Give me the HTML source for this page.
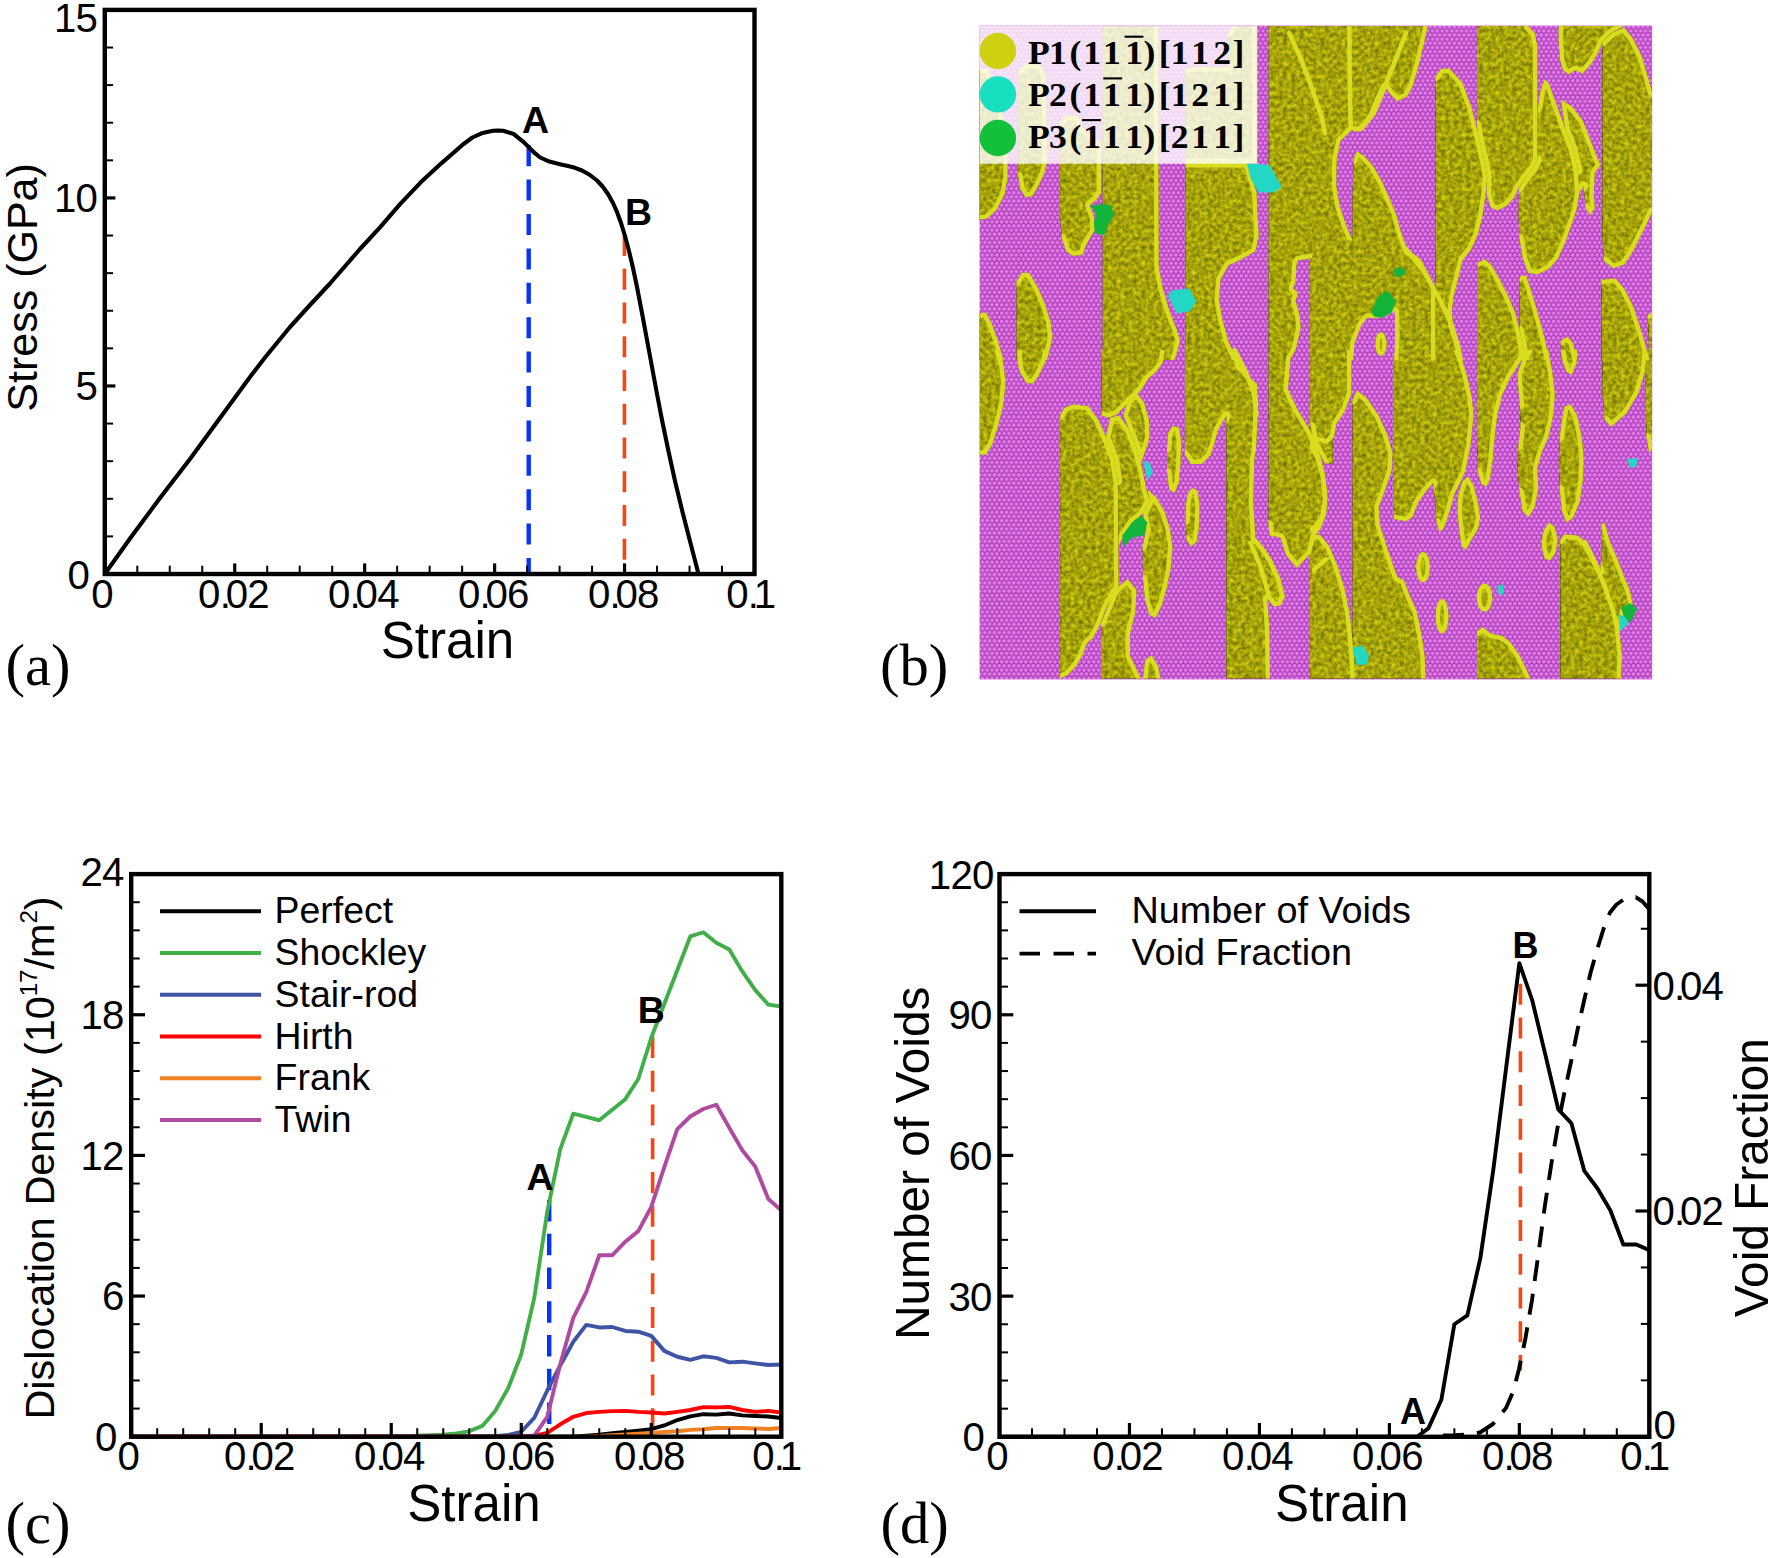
<!DOCTYPE html>
<html lang="en"><head><meta charset="utf-8"><title>Figure</title>
<style>html,body{margin:0;padding:0;background:#fff;}svg{display:block;}text{fill:#000;}</style>
</head><body>
<svg width="1774" height="1558" viewBox="0 0 1774 1558">
<rect width="1774" height="1558" fill="#fff"/>
<clipPath id="clipA"><rect x="104.8" y="9.9" width="649.7" height="566.1"/></clipPath>
<line x1="528.7" y1="145.2" x2="528.7" y2="572.5" stroke="#0433ff" stroke-width="4.4" stroke-dasharray="21 13.4"/>
<line x1="624.4" y1="235" x2="624.4" y2="572.5" stroke="#fb4411" stroke-width="3.6" stroke-dasharray="21 12.75"/>
<polyline points="104.8,574 130,538.5 160,498 190,459 220,418 250,377 265,357.5 290,327 310,305 330,283.5 360,249 380,227.3 400.5,203.7 421,182.1 441.6,163.1 462.1,145.2 472.4,137.5 482.7,132.9 492.9,130.8 498,130.5 503.2,130.8 513.5,133.9 523.7,142.1 528.9,147.2 534,152.4 540.2,157.5 549.4,161.6 560,164.2 568,166 575,167.8 582,170.5 590,175 597,180.5 603,187 608,194 613,203 617,212 621,223 625,236 629,251 633,268 637,287 642,313 647,340 652,367 657,394 662,420 668,449 675,481 682.5,512 691,545 698.9,575.5" fill="none" stroke="#000" stroke-width="4.1" stroke-linejoin="round" clip-path="url(#clipA)"/>
<rect x="104.8" y="9.9" width="649.7" height="564.1" fill="none" stroke="#000" stroke-width="4.4"/>
<line x1="137.28" y1="574" x2="137.28" y2="565.7" stroke="#000" stroke-width="2" />
<line x1="169.77" y1="574" x2="169.77" y2="565.7" stroke="#000" stroke-width="2" />
<line x1="202.25" y1="574" x2="202.25" y2="565.7" stroke="#000" stroke-width="2" />
<line x1="234.74" y1="574" x2="234.74" y2="563.4" stroke="#000" stroke-width="3.2" />
<line x1="267.23" y1="574" x2="267.23" y2="565.7" stroke="#000" stroke-width="2" />
<line x1="299.71" y1="574" x2="299.71" y2="565.7" stroke="#000" stroke-width="2" />
<line x1="332.19" y1="574" x2="332.19" y2="565.7" stroke="#000" stroke-width="2" />
<line x1="364.68" y1="574" x2="364.68" y2="563.4" stroke="#000" stroke-width="3.2" />
<line x1="397.16" y1="574" x2="397.16" y2="565.7" stroke="#000" stroke-width="2" />
<line x1="429.65" y1="574" x2="429.65" y2="565.7" stroke="#000" stroke-width="2" />
<line x1="462.13" y1="574" x2="462.13" y2="565.7" stroke="#000" stroke-width="2" />
<line x1="494.62" y1="574" x2="494.62" y2="563.4" stroke="#000" stroke-width="3.2" />
<line x1="527.11" y1="574" x2="527.11" y2="565.7" stroke="#000" stroke-width="2" />
<line x1="559.59" y1="574" x2="559.59" y2="565.7" stroke="#000" stroke-width="2" />
<line x1="592.07" y1="574" x2="592.07" y2="565.7" stroke="#000" stroke-width="2" />
<line x1="624.56" y1="574" x2="624.56" y2="563.4" stroke="#000" stroke-width="3.2" />
<line x1="657.04" y1="574" x2="657.04" y2="565.7" stroke="#000" stroke-width="2" />
<line x1="689.53" y1="574" x2="689.53" y2="565.7" stroke="#000" stroke-width="2" />
<line x1="722.01" y1="574" x2="722.01" y2="565.7" stroke="#000" stroke-width="2" />
<text x="102.1" y="607.5" font-size="40.2" text-anchor="middle" font-weight="normal" font-family='"Liberation Sans", sans-serif' letter-spacing="-0.8">0</text>
<text x="233.44" y="607.5" font-size="40.2" text-anchor="middle" font-weight="normal" font-family='"Liberation Sans", sans-serif' letter-spacing="-0.8">0.<tspan dx="-4.4">02</tspan></text>
<text x="363.38" y="607.5" font-size="40.2" text-anchor="middle" font-weight="normal" font-family='"Liberation Sans", sans-serif' letter-spacing="-0.8">0.<tspan dx="-4.4">04</tspan></text>
<text x="493.32" y="607.5" font-size="40.2" text-anchor="middle" font-weight="normal" font-family='"Liberation Sans", sans-serif' letter-spacing="-0.8">0.<tspan dx="-4.4">06</tspan></text>
<text x="623.26" y="607.5" font-size="40.2" text-anchor="middle" font-weight="normal" font-family='"Liberation Sans", sans-serif' letter-spacing="-0.8">0.<tspan dx="-4.4">08</tspan></text>
<text x="750.7" y="607.5" font-size="40.2" text-anchor="middle" font-weight="normal" font-family='"Liberation Sans", sans-serif' letter-spacing="-0.8">0.<tspan dx="-4.4">1</tspan></text>
<line x1="104.8" y1="536.39" x2="113.1" y2="536.39" stroke="#000" stroke-width="2" />
<line x1="104.8" y1="498.79" x2="113.1" y2="498.79" stroke="#000" stroke-width="2" />
<line x1="104.8" y1="461.18" x2="113.1" y2="461.18" stroke="#000" stroke-width="2" />
<line x1="104.8" y1="423.57" x2="113.1" y2="423.57" stroke="#000" stroke-width="2" />
<line x1="104.8" y1="385.97" x2="115.4" y2="385.97" stroke="#000" stroke-width="3.2" />
<line x1="104.8" y1="348.36" x2="113.1" y2="348.36" stroke="#000" stroke-width="2" />
<line x1="104.8" y1="310.75" x2="113.1" y2="310.75" stroke="#000" stroke-width="2" />
<line x1="104.8" y1="273.15" x2="113.1" y2="273.15" stroke="#000" stroke-width="2" />
<line x1="104.8" y1="235.54" x2="113.1" y2="235.54" stroke="#000" stroke-width="2" />
<line x1="104.8" y1="197.93" x2="115.4" y2="197.93" stroke="#000" stroke-width="3.2" />
<line x1="104.8" y1="160.33" x2="113.1" y2="160.33" stroke="#000" stroke-width="2" />
<line x1="104.8" y1="122.72" x2="113.1" y2="122.72" stroke="#000" stroke-width="2" />
<line x1="104.8" y1="85.11" x2="113.1" y2="85.11" stroke="#000" stroke-width="2" />
<line x1="104.8" y1="47.51" x2="113.1" y2="47.51" stroke="#000" stroke-width="2" />
<text x="89" y="589.2" font-size="40.2" text-anchor="end" font-weight="normal" font-family='"Liberation Sans", sans-serif' letter-spacing="-0.8">0</text>
<text x="97" y="400.37" font-size="40.2" text-anchor="end" font-weight="normal" font-family='"Liberation Sans", sans-serif' letter-spacing="-0.8">5</text>
<text x="97" y="212.33" font-size="40.2" text-anchor="end" font-weight="normal" font-family='"Liberation Sans", sans-serif' letter-spacing="-0.8">10</text>
<text x="97" y="31.6" font-size="40.2" text-anchor="end" font-weight="normal" font-family='"Liberation Sans", sans-serif' letter-spacing="-0.8">15</text>
<text transform="translate(447.5 658.3) scale(0.972 1)" font-size="52.6" text-anchor="middle" font-family='"Liberation Sans", sans-serif'>Strain</text>
<text transform="translate(37.2 287.4) rotate(-90) scale(1 1)" font-size="43" text-anchor="middle" font-family='"Liberation Sans", sans-serif' >Stress (GPa)</text>
<text x="522" y="133.2" font-size="37.5" text-anchor="start" font-weight="bold" font-family='"Liberation Sans", sans-serif' >A</text>
<text x="625" y="225" font-size="37.5" text-anchor="start" font-weight="bold" font-family='"Liberation Sans", sans-serif' >B</text>
<text transform="translate(5.6 685) scale(1 1)" font-size="58.6" font-family='"Liberation Serif", serif'>(a)</text>
<defs>
<clipPath id="clipB"><rect x="979.5" y="25.5" width="672.8" height="654"/></clipPath>
<radialGradient id="gp" cx="0.45" cy="0.42" r="0.58"><stop offset="0" stop-color="#f686fb"/><stop offset="0.45" stop-color="#e273ea"/><stop offset="1" stop-color="#b24cbc"/></radialGradient>
<pattern id="patP" width="4.84" height="8.3" patternUnits="userSpaceOnUse"><rect width="4.84" height="8.3" fill="#973aa3"/><circle cx="2.42" cy="2.07" r="2.3" fill="url(#gp)"/><circle cx="0" cy="6.22" r="2.3" fill="url(#gp)"/><circle cx="4.84" cy="6.22" r="2.3" fill="url(#gp)"/></pattern>
<filter id="fY" filterUnits="userSpaceOnUse" x="978.5" y="24.5" width="674.8" height="656" color-interpolation-filters="sRGB"><feTurbulence type="fractalNoise" baseFrequency="0.24" numOctaves="2" seed="5" result="n"/><feColorMatrix in="n" type="matrix" values="1 0 0 0 0  1 0 0 0 0  1 0 0 0 0  0 0 0 0 1" result="g"/><feComposite in="SourceGraphic" in2="g" operator="arithmetic" k1="0.9" k2="0.55" k3="0" k4="0"/></filter>
</defs>
<g clip-path="url(#clipB)">
<rect x="979.5" y="25.5" width="672.8" height="654" fill="#cf64d8"/>
<rect x="979.5" y="25.5" width="672.8" height="654" fill="url(#patP)"/>
<g filter="url(#fY)" fill="#a5a30a">
<polygon points="979.4,69.1 988.1,69.1 1001.2,107.3 1007.7,142.2 1007.7,177.1 1004.5,194.6 996.8,209.8 987,218.6 979.4,219.7"/>
<polygon points="1018.6,70.2 1025.2,64.1 1040.5,64.7 1045.9,76.7 1047,162.9 1043.7,174.9 1037.2,188 1032.2,196.3 1025.6,197.2 1020.4,189.1 1018.2,176"/>
<polygon points="1060.1,122.6 1066.6,114.9 1077.6,116 1084.1,129.1 1101.1,142.2 1101.1,192.4 1097.2,198.9 1089.6,205.5 1093.9,216.4 1095,229.5 1088.5,240.4 1085.2,246.9 1083,254.6 1073.2,256.1 1066.2,251.3 1061.8,238.2 1060.1,216.4"/>
<polygon points="1102.6,26.5 1158.3,26.5 1158.7,266.6 1162.7,288.4 1169.2,310.2 1176.8,329.8 1180.1,340.8 1174.7,360 1102.6,360"/>
<polygon points="1016.5,360 1016.5,281.8 1021.9,272.7 1029.5,273.1 1038.3,288.4 1044.8,303.7 1050.3,321.1 1052.5,336.4 1049.2,351.7 1047,360"/>
<polygon points="979.4,313.5 985.9,312.4 992.5,325.5 997.9,340.8 1003.4,360 979.4,360"/>
<polygon points="1185.6,69.1 1193.2,66.9 1228.1,66.9 1228.1,33.1 1232.5,26.5 1256.5,26.5 1256.5,162.9 1185.6,162.9"/>
<polygon points="1185.6,162.9 1247.7,162.9 1256.5,192.4 1257.6,216.4 1258.7,236 1255.4,251.3 1240.1,260 1228.1,265.5 1220.5,279.7 1218.9,299.3 1222.7,321.1 1228.1,340.8 1236.8,360 1185.6,360"/>
<polygon points="1268.6,26 1312,26 1312,258 1298.4,260.3 1296.6,263 1295.5,282 1293,288.5 1298,292 1295.5,301 1299.4,314 1300.7,327 1298,340 1295.5,350 1290.4,359 1289,378 1287.8,388.6 1291.7,397.6 1298,410.5 1305.8,423.3 1311,432.3 1316,444 1321,458 1325,475 1327.5,498 1326,515 1321,528 1315.4,535.5 1311,553 1296.8,568 1286,555 1280.5,537.6 1269.6,535.5 1268.5,524.6"/>
<polygon points="1310,26.1 1427.8,26.1 1423.9,44 1419.1,63.6 1413,85.5 1407.1,96.4 1397.3,101.2 1390.3,94.2 1385.3,87.2 1379.8,98.6 1373.7,113.8 1367.2,124.7 1358.4,131.7 1351.5,130.2 1340.5,141.1 1336.6,159.6 1336.2,185.8 1339.5,205.5 1346,225.1 1352.5,240.4 1310,240.4"/>
<polygon points="1353.6,159.6 1356.9,150.9 1364.5,156.4 1373.3,166.2 1382,181.5 1389.6,198.9 1396.2,214.2 1399.5,227.3 1403.8,240.4 1408.2,251.3 1414.7,254.6 1421.3,260 1427.8,273.1 1435.5,287.3 1435.5,360 1310,360 1310,238.2 1352.5,238.2 1352.5,194.6"/>
<polygon points="1435.5,360 1435.5,76.7 1440.9,69.1 1449.6,68.4 1462.7,83.3 1471.5,107.3 1478,133.5 1484.6,161.8 1487.2,177.1 1485.6,194.6 1482.4,216.4 1478,233.8 1471.5,249.1 1462.7,260 1458.4,277.5 1454,294.9 1451.8,310.2 1452.9,325.5 1458.4,342.9 1462.7,360"/>
<polygon points="1476.9,26.1 1528.2,26.1 1534.7,33.1 1537.4,46.2 1537.4,159.6 1532.6,169.5 1524.9,178.2 1518.4,188 1514,197.8 1506.4,205.9 1497.7,210.3 1491.1,207.7 1486.7,194.6 1487.2,177.1 1484.6,161.8 1478,133.5 1476.9,124.7"/>
<polygon points="1544.6,79.3 1548.9,83.3 1556.6,105.1 1565.3,129.1 1572.9,148.7 1577.9,170.6 1579.5,192.4 1576.6,209.8 1570.7,227.3 1564.2,244.7 1557.7,258.9 1548.9,268.7 1538,274.2 1528.2,273.1 1522.7,257.8 1519.5,238.2 1518.4,216.4 1519,188 1524.9,178.2 1532.6,169.5 1537.4,159.6 1538,107.3 1540.2,92"/>
<polygon points="1560.9,99.6 1571.8,106.2 1582.7,120.4 1590.4,140 1598,159.6 1600.6,165.1 1594.7,172.7 1593.7,194.6 1594.7,207.7 1590.4,215.3 1585.4,207.7 1583.8,185.8 1579.5,192.4 1577.9,170.6 1572.9,148.7 1565.3,129.1"/>
<polygon points="1558.7,26.1 1624.2,26.1 1611.1,33.1 1602.4,41.8 1598,52.7 1591.5,63.6 1582.7,73.5 1575.1,70.2 1568.6,74.5 1563.1,70.2 1559.8,59.3 1558.7,41.8"/>
<polygon points="1602.4,41.8 1612.2,32.7 1624.2,27.6 1632.9,38.5 1641.7,56 1647.8,76.7 1652.1,92 1652.1,212 1647.1,222.9 1640.6,236 1632.9,251.3 1624.2,264.4 1613.3,268.3 1604.1,261.1 1602.4,238.2"/>
<polygon points="1601.3,279.7 1615.5,278.6 1624.2,288.4 1632.9,305.8 1639.5,325.5 1644.9,342.9 1649.3,360 1601.3,360"/>
<polygon points="1647.8,314.6 1652.1,312.4 1652.1,360 1649.3,360"/>
<polygon points="1478,262.2 1484.6,259.6 1491.1,264.4 1499.8,279.7 1508.6,297.1 1515.1,312.4 1519.5,329.8 1522.7,347.3 1524.9,360 1478,360"/>
<polygon points="1519.9,276.4 1526,275.3 1530.4,288.4 1536.9,310.2 1541.3,325.5 1545.7,342.9 1548.9,360 1524.9,360 1522.7,347.3 1519.5,329.8 1519.5,303.7"/>
<polygon points="1560.9,340.8 1567.5,336.4 1572.9,342.9 1577.3,360 1560.9,360"/>
<polygon points="979.8,350 999,350 1003.4,363.1 1005.5,382.7 1003.4,404.5 997.9,426.4 992.5,443.8 985.9,454.7 979.8,454.7"/>
<polygon points="1017.5,350 1048.1,350 1044.8,363.1 1038.3,376.2 1032.8,383.8 1026.3,382.7 1019.7,371.8 1017.5,360.9"/>
<polygon points="1060.1,678.4 1060.1,415.5 1064.5,407.8 1073.2,404.5 1088.5,406.3 1098.3,419.8 1107,439.5 1114.2,459.1 1117.9,480.9 1118.6,586.7 1113.6,594.4 1105.9,608.6 1099.8,624.9 1092.8,638 1086.7,643.5 1082.4,655.5 1075.8,666.4 1067.7,675.1"/>
<polygon points="1105.9,437.3 1110.3,417.6 1119,415.5 1128.8,428.6 1136.5,448.2 1142.6,470 1146.3,489.6 1149.6,500.6 1143,513.6 1132.1,522.4 1123.4,535.5 1118.6,546.4 1117.9,480.9 1114.2,459.1"/>
<polygon points="1147.4,489.6 1156.1,497.3 1164.4,511.5 1169.9,528.9 1172.5,546.4 1170.7,568.2 1167,586.7 1162.2,604.2 1155.7,617.9 1149.6,615.1 1145.2,600.9 1143,579.1 1142.6,546.4 1146.3,528.9 1143,513.6 1149.6,500.6"/>
<polygon points="1101.1,350 1164.8,350 1162.7,363.1 1156.1,371.8 1148.5,378.4 1140.8,390.4 1132.1,399.1 1125.6,405.6 1116.8,414.4 1108.1,417.6 1101.6,415.5"/>
<polygon points="1127.7,401.3 1136.5,392.5 1144.1,402.4 1148.9,419.8 1149.6,437.3 1146.3,448.2 1140.8,463.5 1136.5,448.2 1128.8,428.6 1123.4,415.5"/>
<polygon points="1168.1,432.9 1172.5,425.9 1179,427.5 1181.2,441.6 1180.5,463.5 1179,480.9 1174.7,492.9 1169.2,489.6 1167,472.2 1167,448.2"/>
<polygon points="1187.7,494 1192.1,487.9 1197.6,490.7 1199.7,507.1 1198.7,528.9 1196.5,542 1191,546.4 1186.7,539.8 1185.6,520.2 1186.2,502.7"/>
<polygon points="1184.9,350 1234.7,350 1236.4,353.1 1239.9,365.5 1247.1,372.9 1252.1,379.9 1256.9,383.6 1258.2,403.9 1256.9,430.1 1256,449.9 1254.3,459.1 1253.2,502.7 1255.4,537.7 1263,546.4 1271.7,559.5 1280.5,579.1 1284.8,596.6 1280.5,605.3 1273.9,606.4 1267.4,598.7 1269.6,633.7 1270,678.4 1226.4,678.4 1226.4,415.5 1217.6,430.7 1215,441.6 1210.7,454.7 1201.9,463.9 1191,463.9 1184.9,454.7"/>
<polygon points="1311,350 1332.8,350 1332.8,463.5 1325,463.5 1314.3,443.8 1311,426.4"/>
<polygon points="1312.1,568.2 1325,557.3 1332.8,557.3 1332.8,678.4 1312.1,678.4"/>
<polygon points="1247.7,542 1255.4,537.7 1263,546.4 1271.7,559.5 1280.5,579.1 1284.8,596.6 1280.5,605.3 1273.9,606.4 1267.4,598.7 1258.7,568.2"/>
<polygon points="1143,678.4 1145.2,659.8 1151.7,655.5 1158.3,666.4 1160.5,678.4"/>
<polygon points="1101.1,678.4 1101.1,622.7 1114.6,590 1127.7,579.1 1136.5,590 1135.4,611.8 1129.9,633.7 1129.9,655.5 1140.8,678.4"/>
<polygon points="1310,350 1351.5,350 1351.5,393.6 1344.9,411.1 1336.2,424.2 1334,437.3 1327.5,443.8 1318.7,441.6 1310,441.6"/>
<polygon points="1310,441.6 1318.7,454.7 1325.3,476.6 1327.5,498.4 1324.2,518 1316.5,528.9 1310,533.3"/>
<polygon points="1310,535.5 1319.8,534.4 1329.6,546.4 1338.4,568.2 1344.9,590 1349.3,611.8 1351.9,633.7 1353.6,655.5 1354.7,678.4 1310,678.4"/>
<polygon points="1352.5,678.4 1352.5,400.2 1356.9,390.4 1366.7,398 1378.7,415.5 1387.5,435.1 1392.5,452.6 1391.8,470 1385.3,489.6 1378.7,507.1 1379.8,524.6 1385.3,542 1391.8,561.7 1397.3,576.9 1403.8,580.2 1409.3,594.4 1416.9,611.8 1421.3,633.7 1424.6,655.5 1425.6,678.4"/>
<polygon points="1394,350 1394,519.1 1406,521.3 1412.6,516.9 1418,502.7 1425.6,491.8 1433.3,483.1 1435,502.7 1436.6,522.4 1439.2,531.5 1443.5,528.9 1449.6,511.5 1454.4,494 1461,480.9 1465.4,471.1 1470.4,446 1473.6,415.5 1471.9,398 1467.1,376.2 1461,356.5 1458.4,350"/>
<polygon points="1462.7,480.9 1468.2,476.6 1473.6,485.3 1478,502.7 1480.2,518 1478,528.9 1471.5,539.8 1466,549.7 1461.6,546.4 1459.5,531.1 1457.3,511.5 1458.4,494"/>
<polygon points="1476.9,350 1528.2,350 1519.5,363.1 1509.7,378.4 1502,395.8 1497.2,415.5 1494.6,437.3 1492.8,459.1 1490,478.7 1486.7,486.4 1481.3,484.2 1478,472.2 1476.9,437.3"/>
<polygon points="1517.3,374 1522.7,358.7 1528.2,350 1548.3,350 1552.2,371.8 1554.8,393.6 1553.3,415.5 1548.3,437.3 1541.7,452.6 1537.4,467.8 1538.2,489.6 1534.7,507.1 1528.6,516.9 1522.7,511.5 1519.5,491.8 1517.3,467.8 1518.4,446 1520.6,426.4 1519.9,404.5 1518.4,389.3"/>
<polygon points="1564.2,406.7 1570.7,404.5 1577.3,415.5 1581.7,437.3 1583.8,459.1 1582.7,480.9 1579.5,502.7 1572.9,518 1566.4,522.4 1562,511.5 1559.8,489.6 1558.7,463.5 1559.8,437.3 1562,419.8"/>
<polygon points="1560.9,350 1577.3,350 1576.6,363.1 1571.8,375.1 1566.4,371.8 1562.7,360.9"/>
<polygon points="1602.4,350 1647.1,350 1644.9,371.8 1638.4,393.6 1626.4,413.3 1611.1,426.8 1604.6,419.8 1602.4,393.6"/>
<polygon points="1646,350 1652.1,350 1652.1,448.2 1649.3,453.6 1646.5,437.3 1645.6,393.6"/>
<polygon points="1544.6,528.9 1548.9,522.4 1554.4,526.7 1557.7,539.8 1555.5,552.9 1550,560.6 1544.6,558.4 1541.7,546.4 1542.4,535.5"/>
<polygon points="1560.3,678.4 1560.3,539.8 1564.2,534.4 1578.4,535.5 1586,543.1 1593.7,557.3 1600.2,570.4 1602.4,546.4 1601.3,524.6 1604.6,522.4 1610,542 1617.7,559.5 1624.2,576.9 1629.7,590 1632.9,604.2 1624.2,611.8 1619.4,631.5 1622,655.5 1620.9,678.4"/>
<polygon points="1476.9,678.4 1476.9,631.5 1482.4,627.1 1491.1,633.7 1502,635.8 1510.7,642.4 1519.5,655.5 1526,668.6 1530.4,678.4"/>
<polygon points="1430,567.1 1429.5,573 1428,577.9 1425.7,581.2 1423,582.4 1420.4,581.2 1418.1,577.9 1416.6,573 1416,567.1 1416.6,561.3 1418.1,556.3 1420.4,553 1423,551.8 1425.7,553 1428,556.3 1429.5,561.3"/>
<polygon points="1448.6,616.2 1448.1,622.9 1446.6,628.5 1444.5,632.3 1442,633.7 1439.5,632.3 1437.4,628.5 1436,622.9 1435.5,616.2 1436,609.5 1437.4,603.9 1439.5,600.1 1442,598.7 1444.5,600.1 1446.6,603.9 1448.1,609.5"/>
<polygon points="1492.4,597.7 1491.8,603.1 1490.1,607.7 1487.6,610.8 1484.6,611.8 1481.6,610.8 1479,607.7 1477.3,603.1 1476.7,597.7 1477.3,592.2 1479,587.6 1481.6,584.6 1484.6,583.5 1487.6,584.6 1490.1,587.6 1491.8,592.2"/>
</g>
<g id="rims1">
<clipPath id="r1"><polygon points="979.4,69.1 988.1,69.1 1001.2,107.3 1007.7,142.2 1007.7,177.1 1004.5,194.6 996.8,209.8 987,218.6 979.4,219.7"/></clipPath>
<g clip-path="url(#r1)" fill="none" stroke="#d9dd20" stroke-width="9" stroke-linejoin="round" stroke-linecap="round">
<polyline points="979.4,69.1 988.1,69.1 1001.2,107.3 1007.7,142.2 1007.7,177.1 1004.5,194.6 996.8,209.8 987,218.6 979.4,219.7"/>
</g>
<clipPath id="r2"><polygon points="1018.6,70.2 1025.2,64.1 1040.5,64.7 1045.9,76.7 1047,162.9 1043.7,174.9 1037.2,188 1032.2,196.3 1025.6,197.2 1020.4,189.1 1018.2,176"/></clipPath>
<g clip-path="url(#r2)" fill="none" stroke="#d9dd20" stroke-width="9" stroke-linejoin="round" stroke-linecap="round">
<polyline points="1018.6,70.2 1025.2,64.1 1040.5,64.7 1045.9,76.7 1047,162.9 1043.7,174.9 1037.2,188 1032.2,196.3 1025.6,197.2 1020.4,189.1 1018.2,176"/>
</g>
<clipPath id="r3"><polygon points="1060.1,122.6 1066.6,114.9 1077.6,116 1084.1,129.1 1101.1,142.2 1101.1,192.4 1097.2,198.9 1089.6,205.5 1093.9,216.4 1095,229.5 1088.5,240.4 1085.2,246.9 1083,254.6 1073.2,256.1 1066.2,251.3 1061.8,238.2 1060.1,216.4"/></clipPath>
<g clip-path="url(#r3)" fill="none" stroke="#d9dd20" stroke-width="9" stroke-linejoin="round" stroke-linecap="round">
<polyline points="1060.1,122.6 1066.6,114.9 1077.6,116 1084.1,129.1 1101.1,142.2 1101.1,192.4 1097.2,198.9 1089.6,205.5 1093.9,216.4 1095,229.5 1088.5,240.4 1085.2,246.9 1083,254.6 1073.2,256.1 1066.2,251.3 1061.8,238.2"/>
</g>
<clipPath id="r4"><polygon points="1102.6,26.5 1158.3,26.5 1158.7,266.6 1162.7,288.4 1169.2,310.2 1176.8,329.8 1180.1,340.8 1174.7,360 1102.6,360"/></clipPath>
<g clip-path="url(#r4)" fill="none" stroke="#d9dd20" stroke-width="9" stroke-linejoin="round" stroke-linecap="round">
<polyline points="1158.3,26.5 1158.7,266.6 1162.7,288.4 1169.2,310.2 1176.8,329.8 1180.1,340.8 1174.7,360"/>
</g>
<clipPath id="r5"><polygon points="1016.5,360 1016.5,281.8 1021.9,272.7 1029.5,273.1 1038.3,288.4 1044.8,303.7 1050.3,321.1 1052.5,336.4 1049.2,351.7 1047,360"/></clipPath>
<g clip-path="url(#r5)" fill="none" stroke="#d9dd20" stroke-width="9" stroke-linejoin="round" stroke-linecap="round">
<polyline points="1016.5,281.8 1021.9,272.7 1029.5,273.1 1038.3,288.4 1044.8,303.7 1050.3,321.1 1052.5,336.4 1049.2,351.7 1047,360"/>
</g>
<clipPath id="r6"><polygon points="979.4,313.5 985.9,312.4 992.5,325.5 997.9,340.8 1003.4,360 979.4,360"/></clipPath>
<g clip-path="url(#r6)" fill="none" stroke="#d9dd20" stroke-width="9" stroke-linejoin="round" stroke-linecap="round">
<polyline points="979.4,313.5 985.9,312.4 992.5,325.5 997.9,340.8 1003.4,360"/>
</g>
<clipPath id="r7"><polygon points="1185.6,69.1 1193.2,66.9 1228.1,66.9 1228.1,33.1 1232.5,26.5 1256.5,26.5 1256.5,162.9 1185.6,162.9"/></clipPath>
<g clip-path="url(#r7)" fill="none" stroke="#d9dd20" stroke-width="9" stroke-linejoin="round" stroke-linecap="round">
<polyline points="1228.1,33.1 1232.5,26.5"/>
<polyline points="1256.5,26.5 1256.5,162.9 1185.6,162.9"/>
<polyline points="1185.6,69.1 1193.2,66.9 1228.1,66.9"/>
</g>
<clipPath id="r8"><polygon points="1185.6,162.9 1247.7,162.9 1256.5,192.4 1257.6,216.4 1258.7,236 1255.4,251.3 1240.1,260 1228.1,265.5 1220.5,279.7 1218.9,299.3 1222.7,321.1 1228.1,340.8 1236.8,360 1185.6,360"/></clipPath>
<g clip-path="url(#r8)" fill="none" stroke="#d9dd20" stroke-width="9" stroke-linejoin="round" stroke-linecap="round">
<polyline points="1185.6,162.9 1247.7,162.9 1256.5,192.4 1257.6,216.4 1258.7,236 1255.4,251.3 1240.1,260 1228.1,265.5 1220.5,279.7 1218.9,299.3 1222.7,321.1 1228.1,340.8 1236.8,360"/>
</g>
<clipPath id="r9"><polygon points="1268.6,26 1312,26 1312,258 1298.4,260.3 1296.6,263 1295.5,282 1293,288.5 1298,292 1295.5,301 1299.4,314 1300.7,327 1298,340 1295.5,350 1290.4,359 1289,378 1287.8,388.6 1291.7,397.6 1298,410.5 1305.8,423.3 1311,432.3 1316,444 1321,458 1325,475 1327.5,498 1326,515 1321,528 1315.4,535.5 1311,553 1296.8,568 1286,555 1280.5,537.6 1269.6,535.5 1268.5,524.6"/></clipPath>
<g clip-path="url(#r9)" fill="none" stroke="#d9dd20" stroke-width="9" stroke-linejoin="round" stroke-linecap="round">
<polyline points="1312,258 1298.4,260.3 1296.6,263 1295.5,282 1293,288.5 1298,292 1295.5,301 1299.4,314 1300.7,327 1298,340 1295.5,350 1290.4,359 1289,378 1287.8,388.6 1291.7,397.6 1298,410.5 1305.8,423.3 1311,432.3 1316,444 1321,458 1325,475 1327.5,498 1326,515 1321,528 1315.4,535.5 1311,553 1296.8,568 1286,555 1280.5,537.6 1269.6,535.5 1268.5,524.6"/>
</g>
<clipPath id="r10"><polygon points="1310,26.1 1427.8,26.1 1423.9,44 1419.1,63.6 1413,85.5 1407.1,96.4 1397.3,101.2 1390.3,94.2 1385.3,87.2 1379.8,98.6 1373.7,113.8 1367.2,124.7 1358.4,131.7 1351.5,130.2 1340.5,141.1 1336.6,159.6 1336.2,185.8 1339.5,205.5 1346,225.1 1352.5,240.4 1310,240.4"/></clipPath>
<g clip-path="url(#r10)" fill="none" stroke="#d9dd20" stroke-width="9" stroke-linejoin="round" stroke-linecap="round">
<polyline points="1427.8,26.1 1423.9,44 1419.1,63.6 1413,85.5 1407.1,96.4 1397.3,101.2 1390.3,94.2 1385.3,87.2 1379.8,98.6 1373.7,113.8 1367.2,124.7 1358.4,131.7 1351.5,130.2 1340.5,141.1 1336.6,159.6 1336.2,185.8 1339.5,205.5 1346,225.1 1352.5,240.4"/>
</g>
<clipPath id="r11"><polygon points="1353.6,159.6 1356.9,150.9 1364.5,156.4 1373.3,166.2 1382,181.5 1389.6,198.9 1396.2,214.2 1399.5,227.3 1403.8,240.4 1408.2,251.3 1414.7,254.6 1421.3,260 1427.8,273.1 1435.5,287.3 1435.5,360 1310,360 1310,238.2 1352.5,238.2 1352.5,194.6"/></clipPath>
<g clip-path="url(#r11)" fill="none" stroke="#d9dd20" stroke-width="9" stroke-linejoin="round" stroke-linecap="round">
<polyline points="1353.6,159.6 1356.9,150.9 1364.5,156.4 1373.3,166.2 1382,181.5 1389.6,198.9 1396.2,214.2 1399.5,227.3 1403.8,240.4 1408.2,251.3 1414.7,254.6 1421.3,260 1427.8,273.1 1435.5,287.3 1435.5,360"/>
</g>
<clipPath id="r12"><polygon points="1435.5,360 1435.5,76.7 1440.9,69.1 1449.6,68.4 1462.7,83.3 1471.5,107.3 1478,133.5 1484.6,161.8 1487.2,177.1 1485.6,194.6 1482.4,216.4 1478,233.8 1471.5,249.1 1462.7,260 1458.4,277.5 1454,294.9 1451.8,310.2 1452.9,325.5 1458.4,342.9 1462.7,360"/></clipPath>
<g clip-path="url(#r12)" fill="none" stroke="#d9dd20" stroke-width="9" stroke-linejoin="round" stroke-linecap="round">
<polyline points="1435.5,76.7 1440.9,69.1 1449.6,68.4 1462.7,83.3 1471.5,107.3 1478,133.5 1484.6,161.8 1487.2,177.1 1485.6,194.6 1482.4,216.4 1478,233.8 1471.5,249.1 1462.7,260 1458.4,277.5 1454,294.9 1451.8,310.2 1452.9,325.5 1458.4,342.9 1462.7,360"/>
</g>
<clipPath id="r13"><polygon points="1476.9,26.1 1528.2,26.1 1534.7,33.1 1537.4,46.2 1537.4,159.6 1532.6,169.5 1524.9,178.2 1518.4,188 1514,197.8 1506.4,205.9 1497.7,210.3 1491.1,207.7 1486.7,194.6 1487.2,177.1 1484.6,161.8 1478,133.5 1476.9,124.7"/></clipPath>
<g clip-path="url(#r13)" fill="none" stroke="#d9dd20" stroke-width="9" stroke-linejoin="round" stroke-linecap="round">
<polyline points="1528.2,26.1 1534.7,33.1 1537.4,46.2 1537.4,159.6 1532.6,169.5 1524.9,178.2 1518.4,188 1514,197.8 1506.4,205.9 1497.7,210.3 1491.1,207.7 1486.7,194.6 1487.2,177.1 1484.6,161.8 1478,133.5 1476.9,124.7"/>
</g>
<clipPath id="r14"><polygon points="1544.6,79.3 1548.9,83.3 1556.6,105.1 1565.3,129.1 1572.9,148.7 1577.9,170.6 1579.5,192.4 1576.6,209.8 1570.7,227.3 1564.2,244.7 1557.7,258.9 1548.9,268.7 1538,274.2 1528.2,273.1 1522.7,257.8 1519.5,238.2 1518.4,216.4 1519,188 1524.9,178.2 1532.6,169.5 1537.4,159.6 1538,107.3 1540.2,92"/></clipPath>
<g clip-path="url(#r14)" fill="none" stroke="#d9dd20" stroke-width="9" stroke-linejoin="round" stroke-linecap="round">
<polyline points="1519,188 1524.9,178.2 1532.6,169.5 1537.4,159.6"/>
<polyline points="1538,107.3 1540.2,92 1544.6,79.3 1548.9,83.3 1556.6,105.1 1565.3,129.1 1572.9,148.7 1577.9,170.6 1579.5,192.4 1576.6,209.8 1570.7,227.3 1564.2,244.7 1557.7,258.9 1548.9,268.7 1538,274.2 1528.2,273.1 1522.7,257.8 1519.5,238.2"/>
</g>
<clipPath id="r15"><polygon points="1560.9,99.6 1571.8,106.2 1582.7,120.4 1590.4,140 1598,159.6 1600.6,165.1 1594.7,172.7 1593.7,194.6 1594.7,207.7 1590.4,215.3 1585.4,207.7 1583.8,185.8 1579.5,192.4 1577.9,170.6 1572.9,148.7 1565.3,129.1"/></clipPath>
<g clip-path="url(#r15)" fill="none" stroke="#d9dd20" stroke-width="9" stroke-linejoin="round" stroke-linecap="round">
<polyline points="1583.8,185.8 1579.5,192.4"/>
<polyline points="1577.9,170.6 1572.9,148.7 1565.3,129.1 1560.9,99.6 1571.8,106.2 1582.7,120.4 1590.4,140 1598,159.6 1600.6,165.1 1594.7,172.7 1593.7,194.6 1594.7,207.7 1590.4,215.3 1585.4,207.7"/>
</g>
<clipPath id="r16"><polygon points="1558.7,26.1 1624.2,26.1 1611.1,33.1 1602.4,41.8 1598,52.7 1591.5,63.6 1582.7,73.5 1575.1,70.2 1568.6,74.5 1563.1,70.2 1559.8,59.3 1558.7,41.8"/></clipPath>
<g clip-path="url(#r16)" fill="none" stroke="#d9dd20" stroke-width="9" stroke-linejoin="round" stroke-linecap="round">
<polyline points="1624.2,26.1 1611.1,33.1 1602.4,41.8 1598,52.7 1591.5,63.6 1582.7,73.5 1575.1,70.2 1568.6,74.5 1563.1,70.2 1559.8,59.3 1558.7,41.8 1558.7,26.1"/>
</g>
<clipPath id="r17"><polygon points="1602.4,41.8 1612.2,32.7 1624.2,27.6 1632.9,38.5 1641.7,56 1647.8,76.7 1652.1,92 1652.1,212 1647.1,222.9 1640.6,236 1632.9,251.3 1624.2,264.4 1613.3,268.3 1604.1,261.1 1602.4,238.2"/></clipPath>
<g clip-path="url(#r17)" fill="none" stroke="#d9dd20" stroke-width="9" stroke-linejoin="round" stroke-linecap="round">
<polyline points="1652.1,212 1647.1,222.9 1640.6,236 1632.9,251.3 1624.2,264.4 1613.3,268.3 1604.1,261.1"/>
<polyline points="1602.4,41.8 1612.2,32.7 1624.2,27.6 1632.9,38.5 1641.7,56 1647.8,76.7 1652.1,92"/>
</g>
<clipPath id="r18"><polygon points="1601.3,279.7 1615.5,278.6 1624.2,288.4 1632.9,305.8 1639.5,325.5 1644.9,342.9 1649.3,360 1601.3,360"/></clipPath>
<g clip-path="url(#r18)" fill="none" stroke="#d9dd20" stroke-width="9" stroke-linejoin="round" stroke-linecap="round">
<polyline points="1601.3,279.7 1615.5,278.6 1624.2,288.4 1632.9,305.8 1639.5,325.5 1644.9,342.9 1649.3,360"/>
</g>
<clipPath id="r19"><polygon points="1647.8,314.6 1652.1,312.4 1652.1,360 1649.3,360"/></clipPath>
<g clip-path="url(#r19)" fill="none" stroke="#d9dd20" stroke-width="9" stroke-linejoin="round" stroke-linecap="round">
<polyline points="1647.8,314.6 1652.1,312.4"/>
</g>
<clipPath id="r20"><polygon points="1478,262.2 1484.6,259.6 1491.1,264.4 1499.8,279.7 1508.6,297.1 1515.1,312.4 1519.5,329.8 1522.7,347.3 1524.9,360 1478,360"/></clipPath>
<g clip-path="url(#r20)" fill="none" stroke="#d9dd20" stroke-width="9" stroke-linejoin="round" stroke-linecap="round">
<polyline points="1478,262.2 1484.6,259.6 1491.1,264.4 1499.8,279.7 1508.6,297.1 1515.1,312.4 1519.5,329.8 1522.7,347.3 1524.9,360"/>
</g>
<clipPath id="r21"><polygon points="1519.9,276.4 1526,275.3 1530.4,288.4 1536.9,310.2 1541.3,325.5 1545.7,342.9 1548.9,360 1524.9,360 1522.7,347.3 1519.5,329.8 1519.5,303.7"/></clipPath>
<g clip-path="url(#r21)" fill="none" stroke="#d9dd20" stroke-width="9" stroke-linejoin="round" stroke-linecap="round">
<polyline points="1524.9,360 1522.7,347.3 1519.5,329.8"/>
<polyline points="1519.9,276.4 1526,275.3 1530.4,288.4 1536.9,310.2 1541.3,325.5 1545.7,342.9 1548.9,360"/>
</g>
<clipPath id="r22"><polygon points="1560.9,340.8 1567.5,336.4 1572.9,342.9 1577.3,360 1560.9,360"/></clipPath>
<g clip-path="url(#r22)" fill="none" stroke="#d9dd20" stroke-width="9" stroke-linejoin="round" stroke-linecap="round">
<polyline points="1560.9,340.8 1567.5,336.4 1572.9,342.9 1577.3,360"/>
</g>
<clipPath id="r23"><polygon points="979.8,350 999,350 1003.4,363.1 1005.5,382.7 1003.4,404.5 997.9,426.4 992.5,443.8 985.9,454.7 979.8,454.7"/></clipPath>
<g clip-path="url(#r23)" fill="none" stroke="#d9dd20" stroke-width="9" stroke-linejoin="round" stroke-linecap="round">
<polyline points="999,350 1003.4,363.1 1005.5,382.7 1003.4,404.5 997.9,426.4 992.5,443.8 985.9,454.7 979.8,454.7"/>
</g>
<clipPath id="r24"><polygon points="1017.5,350 1048.1,350 1044.8,363.1 1038.3,376.2 1032.8,383.8 1026.3,382.7 1019.7,371.8 1017.5,360.9"/></clipPath>
<g clip-path="url(#r24)" fill="none" stroke="#d9dd20" stroke-width="9" stroke-linejoin="round" stroke-linecap="round">
<polyline points="1048.1,350 1044.8,363.1 1038.3,376.2 1032.8,383.8 1026.3,382.7 1019.7,371.8 1017.5,360.9 1017.5,350"/>
</g>
<clipPath id="r25"><polygon points="1060.1,678.4 1060.1,415.5 1064.5,407.8 1073.2,404.5 1088.5,406.3 1098.3,419.8 1107,439.5 1114.2,459.1 1117.9,480.9 1118.6,586.7 1113.6,594.4 1105.9,608.6 1099.8,624.9 1092.8,638 1086.7,643.5 1082.4,655.5 1075.8,666.4 1067.7,675.1"/></clipPath>
<g clip-path="url(#r25)" fill="none" stroke="#d9dd20" stroke-width="9" stroke-linejoin="round" stroke-linecap="round">
<polyline points="1060.1,415.5 1064.5,407.8 1073.2,404.5 1088.5,406.3 1098.3,419.8 1107,439.5 1114.2,459.1 1117.9,480.9 1118.6,586.7 1113.6,594.4 1105.9,608.6 1099.8,624.9 1092.8,638 1086.7,643.5 1082.4,655.5 1075.8,666.4 1067.7,675.1 1060.1,678.4"/>
</g>
<clipPath id="r26"><polygon points="1105.9,437.3 1110.3,417.6 1119,415.5 1128.8,428.6 1136.5,448.2 1142.6,470 1146.3,489.6 1149.6,500.6 1143,513.6 1132.1,522.4 1123.4,535.5 1118.6,546.4 1117.9,480.9 1114.2,459.1"/></clipPath>
<g clip-path="url(#r26)" fill="none" stroke="#d9dd20" stroke-width="9" stroke-linejoin="round" stroke-linecap="round">
<polyline points="1117.9,480.9 1114.2,459.1 1105.9,437.3 1110.3,417.6 1119,415.5 1128.8,428.6 1136.5,448.2 1142.6,470 1146.3,489.6 1149.6,500.6 1143,513.6 1132.1,522.4 1123.4,535.5 1118.6,546.4"/>
</g>
<clipPath id="r27"><polygon points="1147.4,489.6 1156.1,497.3 1164.4,511.5 1169.9,528.9 1172.5,546.4 1170.7,568.2 1167,586.7 1162.2,604.2 1155.7,617.9 1149.6,615.1 1145.2,600.9 1143,579.1 1142.6,546.4 1146.3,528.9 1143,513.6 1149.6,500.6"/></clipPath>
<g clip-path="url(#r27)" fill="none" stroke="#d9dd20" stroke-width="9" stroke-linejoin="round" stroke-linecap="round">
<polyline points="1142.6,546.4 1146.3,528.9 1143,513.6 1149.6,500.6 1147.4,489.6 1156.1,497.3 1164.4,511.5 1169.9,528.9 1172.5,546.4 1170.7,568.2 1167,586.7 1162.2,604.2 1155.7,617.9 1149.6,615.1 1145.2,600.9 1143,579.1"/>
</g>
<clipPath id="r28"><polygon points="1101.1,350 1164.8,350 1162.7,363.1 1156.1,371.8 1148.5,378.4 1140.8,390.4 1132.1,399.1 1125.6,405.6 1116.8,414.4 1108.1,417.6 1101.6,415.5"/></clipPath>
<g clip-path="url(#r28)" fill="none" stroke="#d9dd20" stroke-width="9" stroke-linejoin="round" stroke-linecap="round">
<polyline points="1164.8,350 1162.7,363.1 1156.1,371.8 1148.5,378.4 1140.8,390.4 1132.1,399.1 1125.6,405.6 1116.8,414.4 1108.1,417.6 1101.6,415.5"/>
</g>
<clipPath id="r29"><polygon points="1127.7,401.3 1136.5,392.5 1144.1,402.4 1148.9,419.8 1149.6,437.3 1146.3,448.2 1140.8,463.5 1136.5,448.2 1128.8,428.6 1123.4,415.5"/></clipPath>
<g clip-path="url(#r29)" fill="none" stroke="#d9dd20" stroke-width="9" stroke-linejoin="round" stroke-linecap="round">
<polyline points="1127.7,401.3 1136.5,392.5 1144.1,402.4 1148.9,419.8 1149.6,437.3 1146.3,448.2 1140.8,463.5 1136.5,448.2 1128.8,428.6 1123.4,415.5 1127.7,401.3"/>
</g>
<clipPath id="r30"><polygon points="1168.1,432.9 1172.5,425.9 1179,427.5 1181.2,441.6 1180.5,463.5 1179,480.9 1174.7,492.9 1169.2,489.6 1167,472.2 1167,448.2"/></clipPath>
<g clip-path="url(#r30)" fill="none" stroke="#d9dd20" stroke-width="9" stroke-linejoin="round" stroke-linecap="round">
<polyline points="1167,448.2 1168.1,432.9 1172.5,425.9 1179,427.5 1181.2,441.6 1180.5,463.5 1179,480.9 1174.7,492.9 1169.2,489.6 1167,472.2"/>
</g>
<clipPath id="r31"><polygon points="1187.7,494 1192.1,487.9 1197.6,490.7 1199.7,507.1 1198.7,528.9 1196.5,542 1191,546.4 1186.7,539.8 1185.6,520.2 1186.2,502.7"/></clipPath>
<g clip-path="url(#r31)" fill="none" stroke="#d9dd20" stroke-width="9" stroke-linejoin="round" stroke-linecap="round">
<polyline points="1185.6,520.2 1186.2,502.7 1187.7,494 1192.1,487.9 1197.6,490.7 1199.7,507.1 1198.7,528.9 1196.5,542 1191,546.4 1186.7,539.8"/>
</g>
<clipPath id="r32"><polygon points="1184.9,350 1234.7,350 1236.4,353.1 1239.9,365.5 1247.1,372.9 1252.1,379.9 1256.9,383.6 1258.2,403.9 1256.9,430.1 1256,449.9 1254.3,459.1 1253.2,502.7 1255.4,537.7 1263,546.4 1271.7,559.5 1280.5,579.1 1284.8,596.6 1280.5,605.3 1273.9,606.4 1267.4,598.7 1269.6,633.7 1270,678.4 1226.4,678.4 1226.4,415.5 1217.6,430.7 1215,441.6 1210.7,454.7 1201.9,463.9 1191,463.9 1184.9,454.7"/></clipPath>
<g clip-path="url(#r32)" fill="none" stroke="#d9dd20" stroke-width="9" stroke-linejoin="round" stroke-linecap="round">
<polyline points="1234.7,350 1236.4,353.1 1239.9,365.5 1247.1,372.9 1252.1,379.9 1256.9,383.6 1258.2,403.9 1256.9,430.1 1256,449.9 1254.3,459.1 1253.2,502.7 1255.4,537.7 1263,546.4 1271.7,559.5 1280.5,579.1 1284.8,596.6 1280.5,605.3 1273.9,606.4 1267.4,598.7 1269.6,633.7 1270,678.4"/>
<polyline points="1226.4,415.5 1217.6,430.7 1215,441.6 1210.7,454.7 1201.9,463.9 1191,463.9 1184.9,454.7"/>
</g>
<clipPath id="r33"><polygon points="1311,350 1332.8,350 1332.8,463.5 1325,463.5 1314.3,443.8 1311,426.4"/></clipPath>
<g clip-path="url(#r33)" fill="none" stroke="#d9dd20" stroke-width="9" stroke-linejoin="round" stroke-linecap="round">
<polyline points="1325,463.5 1314.3,443.8 1311,426.4"/>
</g>
<clipPath id="r34"><polygon points="1312.1,568.2 1325,557.3 1332.8,557.3 1332.8,678.4 1312.1,678.4"/></clipPath>
<g clip-path="url(#r34)" fill="none" stroke="#d9dd20" stroke-width="9" stroke-linejoin="round" stroke-linecap="round">
<polyline points="1312.1,568.2 1325,557.3"/>
</g>
<clipPath id="r35"><polygon points="1247.7,542 1255.4,537.7 1263,546.4 1271.7,559.5 1280.5,579.1 1284.8,596.6 1280.5,605.3 1273.9,606.4 1267.4,598.7 1258.7,568.2"/></clipPath>
<g clip-path="url(#r35)" fill="none" stroke="#d9dd20" stroke-width="9" stroke-linejoin="round" stroke-linecap="round">
<polyline points="1247.7,542 1255.4,537.7 1263,546.4 1271.7,559.5 1280.5,579.1 1284.8,596.6 1280.5,605.3 1273.9,606.4 1267.4,598.7 1258.7,568.2 1247.7,542"/>
</g>
<clipPath id="r36"><polygon points="1143,678.4 1145.2,659.8 1151.7,655.5 1158.3,666.4 1160.5,678.4"/></clipPath>
<g clip-path="url(#r36)" fill="none" stroke="#d9dd20" stroke-width="9" stroke-linejoin="round" stroke-linecap="round">
<polyline points="1143,678.4 1145.2,659.8 1151.7,655.5 1158.3,666.4 1160.5,678.4"/>
</g>
<clipPath id="r37"><polygon points="1101.1,678.4 1101.1,622.7 1114.6,590 1127.7,579.1 1136.5,590 1135.4,611.8 1129.9,633.7 1129.9,655.5 1140.8,678.4"/></clipPath>
<g clip-path="url(#r37)" fill="none" stroke="#d9dd20" stroke-width="9" stroke-linejoin="round" stroke-linecap="round">
<polyline points="1101.1,622.7 1114.6,590 1127.7,579.1 1136.5,590 1135.4,611.8 1129.9,633.7 1129.9,655.5 1140.8,678.4"/>
</g>
<clipPath id="r38"><polygon points="1310,350 1351.5,350 1351.5,393.6 1344.9,411.1 1336.2,424.2 1334,437.3 1327.5,443.8 1318.7,441.6 1310,441.6"/></clipPath>
<g clip-path="url(#r38)" fill="none" stroke="#d9dd20" stroke-width="9" stroke-linejoin="round" stroke-linecap="round">
<polyline points="1351.5,350 1351.5,393.6 1344.9,411.1 1336.2,424.2 1334,437.3 1327.5,443.8 1318.7,441.6 1310,441.6"/>
</g>
<clipPath id="r39"><polygon points="1310,441.6 1318.7,454.7 1325.3,476.6 1327.5,498.4 1324.2,518 1316.5,528.9 1310,533.3"/></clipPath>
<g clip-path="url(#r39)" fill="none" stroke="#d9dd20" stroke-width="9" stroke-linejoin="round" stroke-linecap="round">
<polyline points="1310,441.6 1318.7,454.7 1325.3,476.6 1327.5,498.4 1324.2,518 1316.5,528.9 1310,533.3"/>
</g>
<clipPath id="r40"><polygon points="1310,535.5 1319.8,534.4 1329.6,546.4 1338.4,568.2 1344.9,590 1349.3,611.8 1351.9,633.7 1353.6,655.5 1354.7,678.4 1310,678.4"/></clipPath>
<g clip-path="url(#r40)" fill="none" stroke="#d9dd20" stroke-width="9" stroke-linejoin="round" stroke-linecap="round">
<polyline points="1310,535.5 1319.8,534.4 1329.6,546.4 1338.4,568.2 1344.9,590 1349.3,611.8 1351.9,633.7 1353.6,655.5 1354.7,678.4"/>
</g>
<clipPath id="r41"><polygon points="1352.5,678.4 1352.5,400.2 1356.9,390.4 1366.7,398 1378.7,415.5 1387.5,435.1 1392.5,452.6 1391.8,470 1385.3,489.6 1378.7,507.1 1379.8,524.6 1385.3,542 1391.8,561.7 1397.3,576.9 1403.8,580.2 1409.3,594.4 1416.9,611.8 1421.3,633.7 1424.6,655.5 1425.6,678.4"/></clipPath>
<g clip-path="url(#r41)" fill="none" stroke="#d9dd20" stroke-width="9" stroke-linejoin="round" stroke-linecap="round">
<polyline points="1352.5,400.2 1356.9,390.4 1366.7,398 1378.7,415.5 1387.5,435.1 1392.5,452.6 1391.8,470 1385.3,489.6 1378.7,507.1 1379.8,524.6 1385.3,542 1391.8,561.7 1397.3,576.9 1403.8,580.2 1409.3,594.4 1416.9,611.8 1421.3,633.7 1424.6,655.5 1425.6,678.4"/>
</g>
<clipPath id="r42"><polygon points="1394,350 1394,519.1 1406,521.3 1412.6,516.9 1418,502.7 1425.6,491.8 1433.3,483.1 1435,502.7 1436.6,522.4 1439.2,531.5 1443.5,528.9 1449.6,511.5 1454.4,494 1461,480.9 1465.4,471.1 1470.4,446 1473.6,415.5 1471.9,398 1467.1,376.2 1461,356.5 1458.4,350"/></clipPath>
<g clip-path="url(#r42)" fill="none" stroke="#d9dd20" stroke-width="9" stroke-linejoin="round" stroke-linecap="round">
<polyline points="1394,519.1 1406,521.3 1412.6,516.9 1418,502.7 1425.6,491.8 1433.3,483.1"/>
<polyline points="1436.6,522.4 1439.2,531.5 1443.5,528.9 1449.6,511.5 1454.4,494 1461,480.9 1465.4,471.1 1470.4,446 1473.6,415.5 1471.9,398 1467.1,376.2 1461,356.5 1458.4,350"/>
</g>
<clipPath id="r43"><polygon points="1462.7,480.9 1468.2,476.6 1473.6,485.3 1478,502.7 1480.2,518 1478,528.9 1471.5,539.8 1466,549.7 1461.6,546.4 1459.5,531.1 1457.3,511.5 1458.4,494"/></clipPath>
<g clip-path="url(#r43)" fill="none" stroke="#d9dd20" stroke-width="9" stroke-linejoin="round" stroke-linecap="round">
<polyline points="1462.7,480.9 1468.2,476.6 1473.6,485.3 1478,502.7 1480.2,518 1478,528.9 1471.5,539.8 1466,549.7 1461.6,546.4 1459.5,531.1 1457.3,511.5 1458.4,494 1462.7,480.9"/>
</g>
<clipPath id="r44"><polygon points="1476.9,350 1528.2,350 1519.5,363.1 1509.7,378.4 1502,395.8 1497.2,415.5 1494.6,437.3 1492.8,459.1 1490,478.7 1486.7,486.4 1481.3,484.2 1478,472.2 1476.9,437.3"/></clipPath>
<g clip-path="url(#r44)" fill="none" stroke="#d9dd20" stroke-width="9" stroke-linejoin="round" stroke-linecap="round">
<polyline points="1528.2,350 1519.5,363.1 1509.7,378.4 1502,395.8 1497.2,415.5 1494.6,437.3 1492.8,459.1 1490,478.7 1486.7,486.4 1481.3,484.2 1478,472.2"/>
</g>
<clipPath id="r45"><polygon points="1517.3,374 1522.7,358.7 1528.2,350 1548.3,350 1552.2,371.8 1554.8,393.6 1553.3,415.5 1548.3,437.3 1541.7,452.6 1537.4,467.8 1538.2,489.6 1534.7,507.1 1528.6,516.9 1522.7,511.5 1519.5,491.8 1517.3,467.8 1518.4,446 1520.6,426.4 1519.9,404.5 1518.4,389.3"/></clipPath>
<g clip-path="url(#r45)" fill="none" stroke="#d9dd20" stroke-width="9" stroke-linejoin="round" stroke-linecap="round">
<polyline points="1548.3,350 1552.2,371.8 1554.8,393.6 1553.3,415.5 1548.3,437.3 1541.7,452.6 1537.4,467.8 1538.2,489.6 1534.7,507.1 1528.6,516.9 1522.7,511.5 1519.5,491.8"/>
<polyline points="1518.4,446 1520.6,426.4"/>
<polyline points="1519.9,404.5 1518.4,389.3 1517.3,374 1522.7,358.7 1528.2,350"/>
</g>
<clipPath id="r46"><polygon points="1564.2,406.7 1570.7,404.5 1577.3,415.5 1581.7,437.3 1583.8,459.1 1582.7,480.9 1579.5,502.7 1572.9,518 1566.4,522.4 1562,511.5 1559.8,489.6 1558.7,463.5 1559.8,437.3 1562,419.8"/></clipPath>
<g clip-path="url(#r46)" fill="none" stroke="#d9dd20" stroke-width="9" stroke-linejoin="round" stroke-linecap="round">
<polyline points="1559.8,437.3 1562,419.8 1564.2,406.7 1570.7,404.5 1577.3,415.5 1581.7,437.3 1583.8,459.1 1582.7,480.9 1579.5,502.7 1572.9,518 1566.4,522.4 1562,511.5 1559.8,489.6"/>
</g>
<clipPath id="r47"><polygon points="1560.9,350 1577.3,350 1576.6,363.1 1571.8,375.1 1566.4,371.8 1562.7,360.9"/></clipPath>
<g clip-path="url(#r47)" fill="none" stroke="#d9dd20" stroke-width="9" stroke-linejoin="round" stroke-linecap="round">
<polyline points="1577.3,350 1576.6,363.1 1571.8,375.1 1566.4,371.8 1562.7,360.9 1560.9,350"/>
</g>
<clipPath id="r48"><polygon points="1602.4,350 1647.1,350 1644.9,371.8 1638.4,393.6 1626.4,413.3 1611.1,426.8 1604.6,419.8 1602.4,393.6"/></clipPath>
<g clip-path="url(#r48)" fill="none" stroke="#d9dd20" stroke-width="9" stroke-linejoin="round" stroke-linecap="round">
<polyline points="1647.1,350 1644.9,371.8 1638.4,393.6 1626.4,413.3 1611.1,426.8 1604.6,419.8"/>
</g>
<clipPath id="r49"><polygon points="1646,350 1652.1,350 1652.1,448.2 1649.3,453.6 1646.5,437.3 1645.6,393.6"/></clipPath>
<g clip-path="url(#r49)" fill="none" stroke="#d9dd20" stroke-width="9" stroke-linejoin="round" stroke-linecap="round">
<polyline points="1652.1,448.2 1649.3,453.6 1646.5,437.3"/>
</g>
<clipPath id="r50"><polygon points="1544.6,528.9 1548.9,522.4 1554.4,526.7 1557.7,539.8 1555.5,552.9 1550,560.6 1544.6,558.4 1541.7,546.4 1542.4,535.5"/></clipPath>
<g clip-path="url(#r50)" fill="none" stroke="#d9dd20" stroke-width="9" stroke-linejoin="round" stroke-linecap="round">
<polyline points="1544.6,528.9 1548.9,522.4 1554.4,526.7 1557.7,539.8 1555.5,552.9 1550,560.6 1544.6,558.4 1541.7,546.4 1542.4,535.5 1544.6,528.9"/>
</g>
<clipPath id="r51"><polygon points="1560.3,678.4 1560.3,539.8 1564.2,534.4 1578.4,535.5 1586,543.1 1593.7,557.3 1600.2,570.4 1602.4,546.4 1601.3,524.6 1604.6,522.4 1610,542 1617.7,559.5 1624.2,576.9 1629.7,590 1632.9,604.2 1624.2,611.8 1619.4,631.5 1622,655.5 1620.9,678.4"/></clipPath>
<g clip-path="url(#r51)" fill="none" stroke="#d9dd20" stroke-width="9" stroke-linejoin="round" stroke-linecap="round">
<polyline points="1560.3,539.8 1564.2,534.4 1578.4,535.5 1586,543.1 1593.7,557.3 1600.2,570.4"/>
<polyline points="1601.3,524.6 1604.6,522.4 1610,542 1617.7,559.5 1624.2,576.9 1629.7,590 1632.9,604.2 1624.2,611.8 1619.4,631.5 1622,655.5 1620.9,678.4"/>
</g>
<clipPath id="r52"><polygon points="1476.9,678.4 1476.9,631.5 1482.4,627.1 1491.1,633.7 1502,635.8 1510.7,642.4 1519.5,655.5 1526,668.6 1530.4,678.4"/></clipPath>
<g clip-path="url(#r52)" fill="none" stroke="#d9dd20" stroke-width="9" stroke-linejoin="round" stroke-linecap="round">
<polyline points="1476.9,631.5 1482.4,627.1 1491.1,633.7 1502,635.8 1510.7,642.4 1519.5,655.5 1526,668.6 1530.4,678.4"/>
</g>
<clipPath id="r53"><polygon points="1430,567.1 1429.5,573 1428,577.9 1425.7,581.2 1423,582.4 1420.4,581.2 1418.1,577.9 1416.6,573 1416,567.1 1416.6,561.3 1418.1,556.3 1420.4,553 1423,551.8 1425.7,553 1428,556.3 1429.5,561.3"/></clipPath>
<g clip-path="url(#r53)" fill="none" stroke="#d9dd20" stroke-width="9" stroke-linejoin="round" stroke-linecap="round">
<polyline points="1430,567.1 1429.5,573 1428,577.9 1425.7,581.2 1423,582.4 1420.4,581.2 1418.1,577.9 1416.6,573 1416,567.1 1416.6,561.3 1418.1,556.3 1420.4,553 1423,551.8 1425.7,553 1428,556.3 1429.5,561.3 1430,567.1"/>
</g>
<clipPath id="r54"><polygon points="1448.6,616.2 1448.1,622.9 1446.6,628.5 1444.5,632.3 1442,633.7 1439.5,632.3 1437.4,628.5 1436,622.9 1435.5,616.2 1436,609.5 1437.4,603.9 1439.5,600.1 1442,598.7 1444.5,600.1 1446.6,603.9 1448.1,609.5"/></clipPath>
<g clip-path="url(#r54)" fill="none" stroke="#d9dd20" stroke-width="9" stroke-linejoin="round" stroke-linecap="round">
<polyline points="1448.6,616.2 1448.1,622.9 1446.6,628.5 1444.5,632.3 1442,633.7 1439.5,632.3 1437.4,628.5 1436,622.9 1435.5,616.2 1436,609.5 1437.4,603.9 1439.5,600.1 1442,598.7 1444.5,600.1 1446.6,603.9 1448.1,609.5 1448.6,616.2"/>
</g>
<clipPath id="r55"><polygon points="1492.4,597.7 1491.8,603.1 1490.1,607.7 1487.6,610.8 1484.6,611.8 1481.6,610.8 1479,607.7 1477.3,603.1 1476.7,597.7 1477.3,592.2 1479,587.6 1481.6,584.6 1484.6,583.5 1487.6,584.6 1490.1,587.6 1491.8,592.2"/></clipPath>
<g clip-path="url(#r55)" fill="none" stroke="#d9dd20" stroke-width="9" stroke-linejoin="round" stroke-linecap="round">
<polyline points="1492.4,597.7 1491.8,603.1 1490.1,607.7 1487.6,610.8 1484.6,611.8 1481.6,610.8 1479,607.7 1477.3,603.1 1476.7,597.7 1477.3,592.2 1479,587.6 1481.6,584.6 1484.6,583.5 1487.6,584.6 1490.1,587.6 1491.8,592.2 1492.4,597.7"/>
</g>
</g>
<polyline points="1353.2,360 1354.7,342.9 1361.3,325.5 1367.2,317.8 1375.5,318.5 1386.4,316.3 1394.7,311.3 1395.1,336.4 1394,360" fill="none" stroke="#d9dd20" stroke-width="9" stroke-linejoin="round"/>
<polygon points="1367.2,317.8 1375.5,318.5 1386.4,316.3 1394.7,311.3 1395.1,336.4 1394,360 1353.2,360 1354.7,342.9 1361.3,325.5" fill="#cf64d8" />
<polygon points="1367.2,317.8 1375.5,318.5 1386.4,316.3 1394.7,311.3 1395.1,336.4 1394,360 1353.2,360 1354.7,342.9 1361.3,325.5" fill="url(#patP)" />
<g filter="url(#fY)" fill="#a5a30a">
<polygon points="1386.6,344 1386.2,348.6 1384.9,352.5 1383.1,355.1 1380.9,356 1378.7,355.1 1376.9,352.5 1375.7,348.6 1375.2,344 1375.7,339.4 1376.9,335.5 1378.7,332.9 1380.9,332 1383.1,332.9 1384.9,335.5 1386.2,339.4"/>
</g>
<clipPath id="r56"><polygon points="1386.6,344 1386.2,348.6 1384.9,352.5 1383.1,355.1 1380.9,356 1378.7,355.1 1376.9,352.5 1375.7,348.6 1375.2,344 1375.7,339.4 1376.9,335.5 1378.7,332.9 1380.9,332 1383.1,332.9 1384.9,335.5 1386.2,339.4"/></clipPath>
<g clip-path="url(#r56)" fill="none" stroke="#d9dd20" stroke-width="9" stroke-linejoin="round" stroke-linecap="round">
<polyline points="1386.6,344 1386.2,348.6 1384.9,352.5 1383.1,355.1 1380.9,356 1378.7,355.1 1376.9,352.5 1375.7,348.6 1375.2,344 1375.7,339.4 1376.9,335.5 1378.7,332.9 1380.9,332 1383.1,332.9 1384.9,335.5 1386.2,339.4 1386.6,344"/>
</g>
<polyline points="1349.3,26.5 1349.7,74.5 1350.6,124.7" fill="none" stroke="#d9dd20" stroke-width="4.5" stroke-linejoin="round" stroke-linecap="round"/>
<polyline points="1406,33.1 1394,63.6 1383.1,90.9 1373.7,113.4 1361.3,128.7" fill="none" stroke="#d9dd20" stroke-width="4.5" stroke-linejoin="round" stroke-linecap="round"/>
<polyline points="1289.2,33.1 1300.1,57.1 1311,85.5 1321.9,118.2 1325,133.5" fill="none" stroke="#d9dd20" stroke-width="4.5" stroke-linejoin="round" stroke-linecap="round"/>
<polyline points="1406,249.1 1423.5,270.9 1440.9,301.5 1451.8,325.5 1458.4,347.3 1460.6,360" fill="none" stroke="#d9dd20" stroke-width="4.5" stroke-linejoin="round" stroke-linecap="round"/>
<polyline points="1234.7,350 1245.6,371.8 1253.9,393.6 1256.5,415.5" fill="none" stroke="#d9dd20" stroke-width="4.5" stroke-linejoin="round" stroke-linecap="round"/>
<polyline points="1584.9,542 1593.7,559.5 1604.6,585.7 1613.3,611.8 1617.7,631.5" fill="none" stroke="#d9dd20" stroke-width="4.5" stroke-linejoin="round" stroke-linecap="round"/>
<polygon points="1246.7,162.9 1269.6,165.1 1281.6,186.9 1273.9,192.4 1258.7,192.4 1251,179.3" fill="#22d8c4" />
<polygon points="1090.6,205.5 1103.7,203.9 1111.4,205.5 1113.6,215.3 1108.1,225.1 1104.8,234.9 1095,233.8 1093.9,222.9 1096.1,214.2" fill="#12b43c" />
<polygon points="1168.1,296 1171.4,290.6 1188.8,288.4 1196.5,301.5 1189.9,311.3 1176.8,313.5" fill="#22d8c4" />
<polygon points="1392.9,270.9 1399.5,266.6 1406,270.9 1403.8,275.3 1396.2,277.5" fill="#12b43c" />
<polygon points="1371.1,312.4 1377.6,297.1 1387.5,290.6 1396.2,301.5 1391.8,312.4 1382,317.8 1374.4,316.7" fill="#12b43c" />
<polygon points="1144.1,461.3 1149.6,462.4 1152.8,472.2 1148.5,479.8 1145.2,472.2" fill="#22d8c4" />
<polygon points="1122.3,535.5 1132.1,522.4 1140.8,515.4 1147.4,522.4 1144.1,535.5 1132.1,537.7 1123.4,547.5" fill="#12b43c" />
<polygon points="1352.5,647.8 1362.4,645.7 1368.9,655.5 1367.2,664.2 1356.9,665.3" fill="#22d8c4" />
<polygon points="1497.7,585.7 1503.1,584.6 1503.1,594.4 1498.7,594.4" fill="#22d8c4" />
<polygon points="1627.5,459.1 1637.3,458 1636.2,466.7 1629.7,467.8" fill="#22d8c4" />
<polygon points="1620.9,607.5 1629.7,603.1 1637.3,608.6 1630.8,622.7 1624.2,617.3" fill="#12b43c" />
<polygon points="1618.7,614 1625.3,617.3 1628.6,623.8 1619.8,631.5" fill="#22d8c4" />
<rect x="979.5" y="25.5" width="277.8" height="138.2" fill="#fff" opacity="0.8"/>
</g>
<circle cx="997.9" cy="51" r="18.2" fill="#cfd010"/>
<text transform="scale(1.08 1)" x="951.8 971.3 990.3 1003.1 1021.3 1041.8 1058.8 1072.9 1084.1 1103 1123.5 1141.3" y="64.2" font-size="33" font-weight="bold" font-family='"Liberation Serif", serif'>P1(111)[112]</text>
<line x1="1124.6" y1="36.7" x2="1143.4" y2="36.7" stroke="#000" stroke-width="2.1"/>
<circle cx="997.9" cy="94.4" r="18.2" fill="#17dfc0"/>
<text transform="scale(1.08 1)" x="951.8 971.3 990.3 1003.1 1021.3 1041.8 1058.8 1072.9 1084.1 1103 1123.5 1141.3" y="105.9" font-size="33" font-weight="bold" font-family='"Liberation Serif", serif'>P2(111)[121]</text>
<line x1="1103.3" y1="78.4" x2="1122.1" y2="78.4" stroke="#000" stroke-width="2.1"/>
<circle cx="997.9" cy="138" r="18.2" fill="#13c03a"/>
<text transform="scale(1.08 1)" x="951.8 971.3 990.3 1003.1 1021.3 1041.8 1058.8 1072.9 1084.1 1103 1123.5 1141.3" y="147.6" font-size="33" font-weight="bold" font-family='"Liberation Serif", serif'>P3(111)[211]</text>
<line x1="1082" y1="120.1" x2="1100.9" y2="120.1" stroke="#000" stroke-width="2.1"/>
<text transform="translate(880 685) scale(1 1)" font-size="58.6" font-family='"Liberation Serif", serif'>(b)</text>
<clipPath id="clipC"><rect x="131.2" y="874.1" width="650.1" height="564.6"/></clipPath>
<line x1="549.2" y1="1200" x2="549.2" y2="1436" stroke="#0433ff" stroke-width="4.4" stroke-dasharray="21.5 12.25"/>
<line x1="652.6" y1="1037" x2="652.6" y2="1436" stroke="#fb4411" stroke-width="3.6" stroke-dasharray="21 12.75"/>
<g clip-path="url(#clipC)">
<polyline points="131.2,1436.7 144.2,1436.7 157.2,1436.7 170.21,1436.7 183.21,1436.7 196.21,1436.7 209.21,1436.7 222.21,1436.7 235.22,1436.7 248.22,1436.7 261.22,1436.7 274.22,1436.7 287.22,1436.7 300.23,1436.7 313.23,1436.7 326.23,1436.7 339.23,1436.7 352.23,1436.7 365.24,1436.7 378.24,1436.7 391.24,1436.7 404.24,1436.7 417.24,1436.7 430.25,1436.7 443.25,1436.7 456.25,1436.7 469.25,1436.7 482.25,1436.7 495.26,1436.7 508.26,1436.7 521.26,1436.7 534.26,1436.7 547.26,1436.7 560.27,1436.7 573.27,1436.7 586.27,1435.76 599.27,1434.59 612.27,1433.18 625.28,1432.01 638.28,1430.61 651.28,1429.2 664.28,1425.45 677.28,1420.06 690.29,1416.31 703.29,1414.2 716.29,1414.66 729.29,1413.49 742.29,1415.37 755.3,1415.95 768.3,1416.54 781.3,1417.95" fill="none" stroke="#000000" stroke-width="3.9" stroke-linejoin="round" />
<polyline points="131.2,1436.7 144.2,1436.7 157.2,1436.7 170.21,1436.7 183.21,1436.7 196.21,1436.7 209.21,1436.7 222.21,1436.7 235.22,1436.7 248.22,1436.7 261.22,1436.7 274.22,1436.7 287.22,1436.7 300.23,1436.7 313.23,1436.7 326.23,1436.7 339.23,1436.7 352.23,1436.7 365.24,1436.7 378.24,1436.7 391.24,1436.7 404.24,1436.23 417.24,1435.76 430.25,1435.29 443.25,1434.71 456.25,1433.42 469.25,1431.31 482.25,1425.92 495.26,1410.91 508.26,1387.94 521.26,1354.19 534.26,1297.93 547.26,1211.66 560.27,1149.07 573.27,1113.67 586.27,1116.96 599.27,1120.24 612.27,1109.69 625.28,1099.14 638.28,1078.98 651.28,1037.72 664.28,1003.97 677.28,970.21 690.29,936.45 703.29,932.24 716.29,942.78 729.29,949.58 742.29,971.38 755.3,990.14 768.3,1004.67 781.3,1006.55" fill="none" stroke="#42ae49" stroke-width="3.9" stroke-linejoin="round" />
<polyline points="131.2,1436.7 144.2,1436.7 157.2,1436.7 170.21,1436.7 183.21,1436.7 196.21,1436.7 209.21,1436.7 222.21,1436.7 235.22,1436.7 248.22,1436.7 261.22,1436.7 274.22,1436.7 287.22,1436.7 300.23,1436.7 313.23,1436.7 326.23,1436.7 339.23,1436.7 352.23,1436.7 365.24,1436.7 378.24,1436.7 391.24,1436.7 404.24,1436.7 417.24,1436.7 430.25,1436.7 443.25,1436.7 456.25,1436.7 469.25,1436.7 482.25,1436.7 495.26,1436.23 508.26,1435.06 521.26,1431.78 534.26,1417.95 547.26,1390.52 560.27,1365.44 573.27,1341.76 586.27,1324.88 599.27,1327.46 612.27,1326.99 625.28,1330.98 638.28,1331.68 651.28,1335.9 664.28,1350.9 677.28,1356.76 690.29,1359.81 703.29,1356.3 716.29,1357.94 729.29,1362.39 742.29,1361.69 755.3,1363.33 768.3,1364.97 781.3,1364.5" fill="none" stroke="#3f54a5" stroke-width="3.9" stroke-linejoin="round" />
<polyline points="131.2,1436.7 144.2,1436.7 157.2,1436.7 170.21,1436.7 183.21,1436.7 196.21,1436.7 209.21,1436.7 222.21,1436.7 235.22,1436.7 248.22,1436.7 261.22,1436.7 274.22,1436.7 287.22,1436.7 300.23,1436.7 313.23,1436.7 326.23,1436.7 339.23,1436.7 352.23,1436.7 365.24,1436.7 378.24,1436.7 391.24,1436.7 404.24,1436.7 417.24,1436.7 430.25,1436.7 443.25,1436.7 456.25,1436.7 469.25,1436.7 482.25,1436.7 495.26,1436.7 508.26,1436.7 521.26,1436.7 534.26,1436.7 547.26,1436.7 560.27,1436.7 573.27,1436.7 586.27,1436.7 599.27,1436 612.27,1435.29 625.28,1434.36 638.28,1433.65 651.28,1432.95 664.28,1432.01 677.28,1431.31 690.29,1429.9 703.29,1429.2 716.29,1428.03 729.29,1428.03 742.29,1428.03 755.3,1428.5 768.3,1428.96 781.3,1428.03" fill="none" stroke="#f08122" stroke-width="3.9" stroke-linejoin="round" />
<polyline points="131.2,1436.7 144.2,1436.7 157.2,1436.7 170.21,1436.7 183.21,1436.7 196.21,1436.7 209.21,1436.7 222.21,1436.7 235.22,1436.7 248.22,1436.7 261.22,1436.7 274.22,1436.7 287.22,1436.7 300.23,1436.7 313.23,1436.7 326.23,1436.7 339.23,1436.7 352.23,1436.7 365.24,1436.7 378.24,1436.7 391.24,1436.7 404.24,1436.7 417.24,1436.7 430.25,1436.7 443.25,1436.7 456.25,1436.7 469.25,1436.7 482.25,1436.7 495.26,1436.7 508.26,1436.7 521.26,1436.7 534.26,1436 547.26,1432.95 560.27,1424.28 573.27,1416.77 586.27,1413.02 599.27,1411.85 612.27,1411.15 625.28,1410.91 638.28,1411.85 651.28,1412.44 664.28,1413.49 677.28,1411.85 690.29,1409.98 703.29,1407.16 716.29,1407.4 729.29,1406.93 742.29,1409.98 755.3,1411.85 768.3,1410.91 781.3,1412.44" fill="none" stroke="#fe0000" stroke-width="3.9" stroke-linejoin="round" />
<polyline points="131.2,1436.7 144.2,1436.7 157.2,1436.7 170.21,1436.7 183.21,1436.7 196.21,1436.7 209.21,1436.7 222.21,1436.7 235.22,1436.7 248.22,1436.7 261.22,1436.7 274.22,1436.7 287.22,1436.7 300.23,1436.7 313.23,1436.7 326.23,1436.7 339.23,1436.7 352.23,1436.7 365.24,1436.7 378.24,1436.7 391.24,1436.7 404.24,1436.7 417.24,1436.7 430.25,1436.7 443.25,1436.7 456.25,1436.7 469.25,1436.7 482.25,1436.7 495.26,1436.7 508.26,1436.7 521.26,1436.7 534.26,1435.53 547.26,1416.77 560.27,1364.03 573.27,1317.85 586.27,1292.06 599.27,1255.26 612.27,1255.26 625.28,1241.67 638.28,1231.12 651.28,1206.97 664.28,1167.12 677.28,1129.15 690.29,1116.49 703.29,1108.99 716.29,1104.77 729.29,1127.74 742.29,1150.24 755.3,1166.65 768.3,1199 781.3,1210.25" fill="none" stroke="#b04aa0" stroke-width="3.9" stroke-linejoin="round" />
</g>
<rect x="131.2" y="874.1" width="650.1" height="562.6" fill="none" stroke="#000" stroke-width="4.4"/>
<line x1="157.2" y1="1436.7" x2="157.2" y2="1428.2" stroke="#000" stroke-width="2" />
<line x1="183.21" y1="1436.7" x2="183.21" y2="1428.2" stroke="#000" stroke-width="2" />
<line x1="209.21" y1="1436.7" x2="209.21" y2="1428.2" stroke="#000" stroke-width="2" />
<line x1="235.22" y1="1436.7" x2="235.22" y2="1428.2" stroke="#000" stroke-width="2" />
<line x1="261.22" y1="1436.7" x2="261.22" y2="1422.9" stroke="#000" stroke-width="3.2" />
<line x1="287.22" y1="1436.7" x2="287.22" y2="1428.2" stroke="#000" stroke-width="2" />
<line x1="313.23" y1="1436.7" x2="313.23" y2="1428.2" stroke="#000" stroke-width="2" />
<line x1="339.23" y1="1436.7" x2="339.23" y2="1428.2" stroke="#000" stroke-width="2" />
<line x1="365.24" y1="1436.7" x2="365.24" y2="1428.2" stroke="#000" stroke-width="2" />
<line x1="391.24" y1="1436.7" x2="391.24" y2="1422.9" stroke="#000" stroke-width="3.2" />
<line x1="417.24" y1="1436.7" x2="417.24" y2="1428.2" stroke="#000" stroke-width="2" />
<line x1="443.25" y1="1436.7" x2="443.25" y2="1428.2" stroke="#000" stroke-width="2" />
<line x1="469.25" y1="1436.7" x2="469.25" y2="1428.2" stroke="#000" stroke-width="2" />
<line x1="495.26" y1="1436.7" x2="495.26" y2="1428.2" stroke="#000" stroke-width="2" />
<line x1="521.26" y1="1436.7" x2="521.26" y2="1422.9" stroke="#000" stroke-width="3.2" />
<line x1="547.26" y1="1436.7" x2="547.26" y2="1428.2" stroke="#000" stroke-width="2" />
<line x1="573.27" y1="1436.7" x2="573.27" y2="1428.2" stroke="#000" stroke-width="2" />
<line x1="599.27" y1="1436.7" x2="599.27" y2="1428.2" stroke="#000" stroke-width="2" />
<line x1="625.28" y1="1436.7" x2="625.28" y2="1428.2" stroke="#000" stroke-width="2" />
<line x1="651.28" y1="1436.7" x2="651.28" y2="1422.9" stroke="#000" stroke-width="3.2" />
<line x1="677.28" y1="1436.7" x2="677.28" y2="1428.2" stroke="#000" stroke-width="2" />
<line x1="703.29" y1="1436.7" x2="703.29" y2="1428.2" stroke="#000" stroke-width="2" />
<line x1="729.29" y1="1436.7" x2="729.29" y2="1428.2" stroke="#000" stroke-width="2" />
<line x1="755.3" y1="1436.7" x2="755.3" y2="1428.2" stroke="#000" stroke-width="2" />
<text x="128.4" y="1470.2" font-size="40.2" text-anchor="middle" font-weight="normal" font-family='"Liberation Sans", sans-serif' letter-spacing="-0.8">0</text>
<text x="259.22" y="1470.2" font-size="40.2" text-anchor="middle" font-weight="normal" font-family='"Liberation Sans", sans-serif' letter-spacing="-0.8">0.<tspan dx="-4.4">02</tspan></text>
<text x="389.24" y="1470.2" font-size="40.2" text-anchor="middle" font-weight="normal" font-family='"Liberation Sans", sans-serif' letter-spacing="-0.8">0.<tspan dx="-4.4">04</tspan></text>
<text x="519.26" y="1470.2" font-size="40.2" text-anchor="middle" font-weight="normal" font-family='"Liberation Sans", sans-serif' letter-spacing="-0.8">0.<tspan dx="-4.4">06</tspan></text>
<text x="649.28" y="1470.2" font-size="40.2" text-anchor="middle" font-weight="normal" font-family='"Liberation Sans", sans-serif' letter-spacing="-0.8">0.<tspan dx="-4.4">08</tspan></text>
<text x="776.8" y="1470.2" font-size="40.2" text-anchor="middle" font-weight="normal" font-family='"Liberation Sans", sans-serif' letter-spacing="-0.8">0.<tspan dx="-4.4">1</tspan></text>
<line x1="131.2" y1="1408.57" x2="139.7" y2="1408.57" stroke="#000" stroke-width="2" />
<line x1="131.2" y1="1380.44" x2="139.7" y2="1380.44" stroke="#000" stroke-width="2" />
<line x1="131.2" y1="1352.31" x2="139.7" y2="1352.31" stroke="#000" stroke-width="2" />
<line x1="131.2" y1="1324.18" x2="139.7" y2="1324.18" stroke="#000" stroke-width="2" />
<line x1="131.2" y1="1296.05" x2="145" y2="1296.05" stroke="#000" stroke-width="3.2" />
<line x1="131.2" y1="1267.92" x2="139.7" y2="1267.92" stroke="#000" stroke-width="2" />
<line x1="131.2" y1="1239.79" x2="139.7" y2="1239.79" stroke="#000" stroke-width="2" />
<line x1="131.2" y1="1211.66" x2="139.7" y2="1211.66" stroke="#000" stroke-width="2" />
<line x1="131.2" y1="1183.53" x2="139.7" y2="1183.53" stroke="#000" stroke-width="2" />
<line x1="131.2" y1="1155.4" x2="145" y2="1155.4" stroke="#000" stroke-width="3.2" />
<line x1="131.2" y1="1127.27" x2="139.7" y2="1127.27" stroke="#000" stroke-width="2" />
<line x1="131.2" y1="1099.14" x2="139.7" y2="1099.14" stroke="#000" stroke-width="2" />
<line x1="131.2" y1="1071.01" x2="139.7" y2="1071.01" stroke="#000" stroke-width="2" />
<line x1="131.2" y1="1042.88" x2="139.7" y2="1042.88" stroke="#000" stroke-width="2" />
<line x1="131.2" y1="1014.75" x2="145" y2="1014.75" stroke="#000" stroke-width="3.2" />
<line x1="131.2" y1="986.62" x2="139.7" y2="986.62" stroke="#000" stroke-width="2" />
<line x1="131.2" y1="958.49" x2="139.7" y2="958.49" stroke="#000" stroke-width="2" />
<line x1="131.2" y1="930.36" x2="139.7" y2="930.36" stroke="#000" stroke-width="2" />
<line x1="131.2" y1="902.23" x2="139.7" y2="902.23" stroke="#000" stroke-width="2" />
<text x="116.6" y="1451.4" font-size="40.2" text-anchor="end" font-weight="normal" font-family='"Liberation Sans", sans-serif' letter-spacing="-0.8">0</text>
<text x="123.6" y="1310.45" font-size="40.2" text-anchor="end" font-weight="normal" font-family='"Liberation Sans", sans-serif' letter-spacing="-0.8">6</text>
<text x="123.6" y="1169.8" font-size="40.2" text-anchor="end" font-weight="normal" font-family='"Liberation Sans", sans-serif' letter-spacing="-0.8">12</text>
<text x="123.6" y="1029.15" font-size="40.2" text-anchor="end" font-weight="normal" font-family='"Liberation Sans", sans-serif' letter-spacing="-0.8">18</text>
<text x="123.6" y="886" font-size="40.2" text-anchor="end" font-weight="normal" font-family='"Liberation Sans", sans-serif' letter-spacing="-0.8">24</text>
<text transform="translate(474 1520.5) scale(0.972 1)" font-size="52.6" text-anchor="middle" font-family='"Liberation Sans", sans-serif'>Strain</text>
<text transform="translate(54.2 1158) rotate(-90)" font-size="41.4" text-anchor="middle" font-family='"Liberation Sans", sans-serif'>Dislocation Density (10<tspan font-size="24" dy="-17">17</tspan><tspan dy="17">/m</tspan><tspan font-size="24" dy="-17">2</tspan><tspan dy="17">)</tspan></text>
<line x1="160" y1="911.2" x2="261" y2="911.2" stroke="#000000" stroke-width="4" />
<text x="274.6" y="923.4" font-size="37.4" text-anchor="start" font-weight="normal" font-family='"Liberation Sans", sans-serif' >Perfect</text>
<line x1="160" y1="952.95" x2="261" y2="952.95" stroke="#42ae49" stroke-width="4" />
<text x="274.6" y="965.15" font-size="37.4" text-anchor="start" font-weight="normal" font-family='"Liberation Sans", sans-serif' >Shockley</text>
<line x1="160" y1="994.7" x2="261" y2="994.7" stroke="#3f54a5" stroke-width="4" />
<text x="274.6" y="1006.9" font-size="37.4" text-anchor="start" font-weight="normal" font-family='"Liberation Sans", sans-serif' >Stair-rod</text>
<line x1="160" y1="1036.45" x2="261" y2="1036.45" stroke="#fe0000" stroke-width="4" />
<text x="274.6" y="1048.65" font-size="37.4" text-anchor="start" font-weight="normal" font-family='"Liberation Sans", sans-serif' >Hirth</text>
<line x1="160" y1="1078.2" x2="261" y2="1078.2" stroke="#f08122" stroke-width="4" />
<text x="274.6" y="1090.4" font-size="37.4" text-anchor="start" font-weight="normal" font-family='"Liberation Sans", sans-serif' >Frank</text>
<line x1="160" y1="1119.95" x2="261" y2="1119.95" stroke="#b04aa0" stroke-width="4" />
<text x="274.6" y="1132.15" font-size="37.4" text-anchor="start" font-weight="normal" font-family='"Liberation Sans", sans-serif' >Twin</text>
<text x="526.5" y="1189.8" font-size="37.5" text-anchor="start" font-weight="bold" font-family='"Liberation Sans", sans-serif' >A</text>
<text x="637.8" y="1022.5" font-size="37.5" text-anchor="start" font-weight="bold" font-family='"Liberation Sans", sans-serif' >B</text>
<text transform="translate(5.6 1542.6) scale(1 1)" font-size="58.6" font-family='"Liberation Serif", serif'>(c)</text>
<clipPath id="clipD"><rect x="999.5" y="874.1" width="649.8" height="564.7"/></clipPath>
<line x1="1520.4" y1="983.75" x2="1520.4" y2="1370.5" stroke="#fb4411" stroke-width="3.6" stroke-dasharray="21 12.75"/>
<g clip-path="url(#clipD)">
<polyline points="999.5,1436.8 1417,1436.8 1428.37,1428.36 1441.36,1399.76 1454.36,1324.26 1467.36,1315.35 1480.35,1258.14 1493.35,1169.52 1506.34,1066.36 1519.34,963.19 1532.34,1000.71 1545.33,1054.63 1558.33,1109.5 1571.32,1123.09 1584.32,1170.92 1597.32,1188.27 1610.31,1210.31 1623.31,1244.54 1636.3,1244.54 1649.3,1250.17" fill="none" stroke="#000" stroke-width="3.9" stroke-linejoin="round" />
<polyline points="1437,1435.6 1454,1435.3 1467,1434.5 1480,1432.5 1493,1424 1506,1408 1513,1392 1519,1369 1525.5,1338 1532,1300 1538.5,1253 1545,1205 1551.5,1163 1558,1125 1564.5,1092 1571,1062 1577.5,1030 1584,1001 1590.5,973 1597,950 1603.5,929 1610,912.5 1616.5,904.5 1623,900 1629.5,897.8 1636,897.3 1642.5,901.5 1649,909" fill="none" stroke="#000" stroke-width="3.9" stroke-linejoin="round" stroke-dasharray="21 13" stroke-dashoffset="-6"/>
</g>
<rect x="999.5" y="874.1" width="649.8" height="562.7" fill="none" stroke="#000" stroke-width="4.4"/>
<line x1="1031.99" y1="1436.8" x2="1031.99" y2="1428.3" stroke="#000" stroke-width="2" />
<line x1="1064.48" y1="1436.8" x2="1064.48" y2="1428.3" stroke="#000" stroke-width="2" />
<line x1="1096.97" y1="1436.8" x2="1096.97" y2="1428.3" stroke="#000" stroke-width="2" />
<line x1="1129.46" y1="1436.8" x2="1129.46" y2="1423" stroke="#000" stroke-width="3.2" />
<line x1="1161.95" y1="1436.8" x2="1161.95" y2="1428.3" stroke="#000" stroke-width="2" />
<line x1="1194.44" y1="1436.8" x2="1194.44" y2="1428.3" stroke="#000" stroke-width="2" />
<line x1="1226.93" y1="1436.8" x2="1226.93" y2="1428.3" stroke="#000" stroke-width="2" />
<line x1="1259.42" y1="1436.8" x2="1259.42" y2="1423" stroke="#000" stroke-width="3.2" />
<line x1="1291.91" y1="1436.8" x2="1291.91" y2="1428.3" stroke="#000" stroke-width="2" />
<line x1="1324.4" y1="1436.8" x2="1324.4" y2="1428.3" stroke="#000" stroke-width="2" />
<line x1="1356.89" y1="1436.8" x2="1356.89" y2="1428.3" stroke="#000" stroke-width="2" />
<line x1="1389.38" y1="1436.8" x2="1389.38" y2="1423" stroke="#000" stroke-width="3.2" />
<line x1="1421.87" y1="1436.8" x2="1421.87" y2="1428.3" stroke="#000" stroke-width="2" />
<line x1="1454.36" y1="1436.8" x2="1454.36" y2="1428.3" stroke="#000" stroke-width="2" />
<line x1="1486.85" y1="1436.8" x2="1486.85" y2="1428.3" stroke="#000" stroke-width="2" />
<line x1="1519.34" y1="1436.8" x2="1519.34" y2="1423" stroke="#000" stroke-width="3.2" />
<line x1="1551.83" y1="1436.8" x2="1551.83" y2="1428.3" stroke="#000" stroke-width="2" />
<line x1="1584.32" y1="1436.8" x2="1584.32" y2="1428.3" stroke="#000" stroke-width="2" />
<line x1="1616.81" y1="1436.8" x2="1616.81" y2="1428.3" stroke="#000" stroke-width="2" />
<text x="997" y="1470.2" font-size="40.2" text-anchor="middle" font-weight="normal" font-family='"Liberation Sans", sans-serif' letter-spacing="-0.8">0</text>
<text x="1127.46" y="1470.2" font-size="40.2" text-anchor="middle" font-weight="normal" font-family='"Liberation Sans", sans-serif' letter-spacing="-0.8">0.<tspan dx="-4.4">02</tspan></text>
<text x="1257.42" y="1470.2" font-size="40.2" text-anchor="middle" font-weight="normal" font-family='"Liberation Sans", sans-serif' letter-spacing="-0.8">0.<tspan dx="-4.4">04</tspan></text>
<text x="1387.38" y="1470.2" font-size="40.2" text-anchor="middle" font-weight="normal" font-family='"Liberation Sans", sans-serif' letter-spacing="-0.8">0.<tspan dx="-4.4">06</tspan></text>
<text x="1517.34" y="1470.2" font-size="40.2" text-anchor="middle" font-weight="normal" font-family='"Liberation Sans", sans-serif' letter-spacing="-0.8">0.<tspan dx="-4.4">08</tspan></text>
<text x="1644.8" y="1470.2" font-size="40.2" text-anchor="middle" font-weight="normal" font-family='"Liberation Sans", sans-serif' letter-spacing="-0.8">0.<tspan dx="-4.4">1</tspan></text>
<line x1="999.5" y1="1408.66" x2="1008" y2="1408.66" stroke="#000" stroke-width="2" />
<line x1="999.5" y1="1380.53" x2="1008" y2="1380.53" stroke="#000" stroke-width="2" />
<line x1="999.5" y1="1352.39" x2="1008" y2="1352.39" stroke="#000" stroke-width="2" />
<line x1="999.5" y1="1324.26" x2="1008" y2="1324.26" stroke="#000" stroke-width="2" />
<line x1="999.5" y1="1296.12" x2="1013.3" y2="1296.12" stroke="#000" stroke-width="3.2" />
<line x1="999.5" y1="1267.99" x2="1008" y2="1267.99" stroke="#000" stroke-width="2" />
<line x1="999.5" y1="1239.86" x2="1008" y2="1239.86" stroke="#000" stroke-width="2" />
<line x1="999.5" y1="1211.72" x2="1008" y2="1211.72" stroke="#000" stroke-width="2" />
<line x1="999.5" y1="1183.59" x2="1008" y2="1183.59" stroke="#000" stroke-width="2" />
<line x1="999.5" y1="1155.45" x2="1013.3" y2="1155.45" stroke="#000" stroke-width="3.2" />
<line x1="999.5" y1="1127.32" x2="1008" y2="1127.32" stroke="#000" stroke-width="2" />
<line x1="999.5" y1="1099.18" x2="1008" y2="1099.18" stroke="#000" stroke-width="2" />
<line x1="999.5" y1="1071.05" x2="1008" y2="1071.05" stroke="#000" stroke-width="2" />
<line x1="999.5" y1="1042.91" x2="1008" y2="1042.91" stroke="#000" stroke-width="2" />
<line x1="999.5" y1="1014.78" x2="1013.3" y2="1014.78" stroke="#000" stroke-width="3.2" />
<line x1="999.5" y1="986.64" x2="1008" y2="986.64" stroke="#000" stroke-width="2" />
<line x1="999.5" y1="958.5" x2="1008" y2="958.5" stroke="#000" stroke-width="2" />
<line x1="999.5" y1="930.37" x2="1008" y2="930.37" stroke="#000" stroke-width="2" />
<line x1="999.5" y1="902.24" x2="1008" y2="902.24" stroke="#000" stroke-width="2" />
<text x="984" y="1450.7" font-size="40.2" text-anchor="end" font-weight="normal" font-family='"Liberation Sans", sans-serif' letter-spacing="-0.8">0</text>
<text x="991.5" y="1310.53" font-size="40.2" text-anchor="end" font-weight="normal" font-family='"Liberation Sans", sans-serif' letter-spacing="-0.8">30</text>
<text x="991.5" y="1169.85" font-size="40.2" text-anchor="end" font-weight="normal" font-family='"Liberation Sans", sans-serif' letter-spacing="-0.8">60</text>
<text x="991.5" y="1029.18" font-size="40.2" text-anchor="end" font-weight="normal" font-family='"Liberation Sans", sans-serif' letter-spacing="-0.8">90</text>
<text x="993.5" y="888.5" font-size="40.2" text-anchor="end" font-weight="normal" font-family='"Liberation Sans", sans-serif' letter-spacing="-0.8">120</text>
<line x1="1649.3" y1="1380.35" x2="1640.8" y2="1380.35" stroke="#000" stroke-width="2" />
<line x1="1649.3" y1="1323.9" x2="1640.8" y2="1323.9" stroke="#000" stroke-width="2" />
<line x1="1649.3" y1="1267.45" x2="1640.8" y2="1267.45" stroke="#000" stroke-width="2" />
<line x1="1649.3" y1="1211" x2="1635.5" y2="1211" stroke="#000" stroke-width="3.2" />
<line x1="1649.3" y1="1154.55" x2="1640.8" y2="1154.55" stroke="#000" stroke-width="2" />
<line x1="1649.3" y1="1098.1" x2="1640.8" y2="1098.1" stroke="#000" stroke-width="2" />
<line x1="1649.3" y1="1041.65" x2="1640.8" y2="1041.65" stroke="#000" stroke-width="2" />
<line x1="1649.3" y1="985.2" x2="1635.5" y2="985.2" stroke="#000" stroke-width="3.2" />
<line x1="1649.3" y1="928.75" x2="1640.8" y2="928.75" stroke="#000" stroke-width="2" />
<text x="1652.5" y="999.6" font-size="40.2" text-anchor="start" font-weight="normal" font-family='"Liberation Sans", sans-serif' letter-spacing="-0.8">0.<tspan dx="-4.4">04</tspan></text>
<text x="1652.5" y="1225.4" font-size="40.2" text-anchor="start" font-weight="normal" font-family='"Liberation Sans", sans-serif' letter-spacing="-0.8">0.<tspan dx="-4.4">02</tspan></text>
<text x="1653.5" y="1439" font-size="40.2" text-anchor="start" font-weight="normal" font-family='"Liberation Sans", sans-serif' letter-spacing="-0.8">0</text>
<text transform="translate(1341.8 1520.5) scale(0.972 1)" font-size="52.6" text-anchor="middle" font-family='"Liberation Sans", sans-serif'>Strain</text>
<text transform="translate(929.3 1163.3) rotate(-90) scale(0.98 1)" font-size="48.8" text-anchor="middle" font-family='"Liberation Sans", sans-serif' >Number of Voids</text>
<text transform="translate(1768.1 1177.7) rotate(-90) scale(0.98 1)" font-size="48.8" text-anchor="middle" font-family='"Liberation Sans", sans-serif' >Void Fraction</text>
<line x1="1019.5" y1="911.2" x2="1096" y2="911.2" stroke="#000" stroke-width="3.9" />
<line x1="1019.5" y1="953.6" x2="1096" y2="953.6" stroke="#000" stroke-width="3.9" stroke-dasharray="20.5 13.5"/>
<text x="1131.5" y="923" font-size="37.8" text-anchor="start" font-weight="normal" font-family='"Liberation Sans", sans-serif' >Number of Voids</text>
<text x="1131.5" y="965" font-size="37.8" text-anchor="start" font-weight="normal" font-family='"Liberation Sans", sans-serif' >Void Fraction</text>
<text x="1400" y="1424" font-size="36" text-anchor="start" font-weight="bold" font-family='"Liberation Sans", sans-serif' >A</text>
<text x="1512.5" y="957.5" font-size="36" text-anchor="start" font-weight="bold" font-family='"Liberation Sans", sans-serif' >B</text>
<text transform="translate(880.4 1542.6) scale(1 1)" font-size="58.6" font-family='"Liberation Serif", serif'>(d)</text>
</svg>
</body></html>
